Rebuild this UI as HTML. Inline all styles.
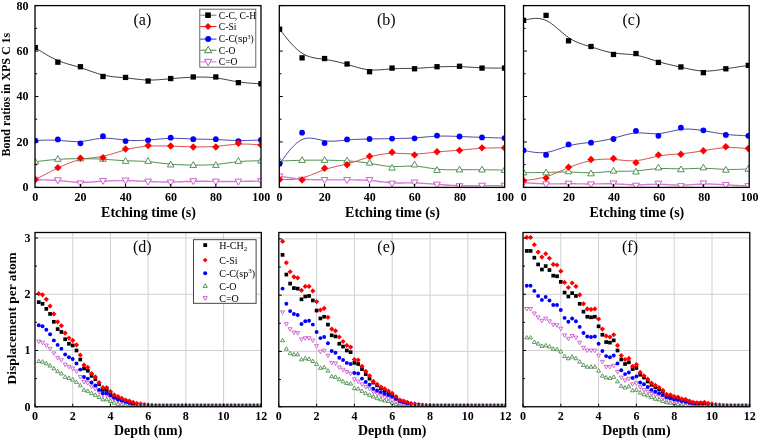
<!DOCTYPE html>
<html><head><meta charset="utf-8"><title>Figure</title>
<style>
html,body{margin:0;padding:0;background:#fff;}
body{width:760px;height:440px;overflow:hidden;}
svg{display:block;will-change:transform;filter:blur(0.3px);}
text{font-family:"Liberation Serif",serif;fill:#000;}
.tl{font-size:12px;font-weight:bold;}
.at{font-size:14px;font-weight:bold;}
.at2{font-size:13.9px;font-weight:bold;}
.pl{font-size:16px;}
.lg{font-size:9.6px;}
.lg2{font-size:10px;}
.yt1{font-size:12px;font-weight:bold;}
.yt2{font-size:13.4px;font-weight:bold;}
</style></head>
<body>
<svg width="760" height="440" viewBox="0 0 760 440">
<rect width="760" height="440" fill="#fff"/>
<clipPath id="ct0"><rect x="35" y="5.6" width="226" height="181.8"/></clipPath>
<g clip-path="url(#ct0)">
<path d="M35.3 47.64 L35.3 47.64 L35.32 47.65 L35.36 47.68 L35.44 47.73 L35.57 47.82 L35.77 47.94 L36.05 48.12 L36.41 48.36 L36.89 48.66 L37.48 49.04 L38.2 49.51 L39.06 50.07 L40.08 50.72 L41.24 51.46 L42.53 52.27 L43.94 53.15 L45.45 54.06 L47.05 55.01 L48.73 55.97 L50.48 56.93 L52.28 57.88 L54.12 58.81 L55.99 59.69 L57.86 60.52 L59.75 61.28 L61.63 61.98 L63.51 62.63 L65.39 63.24 L67.27 63.81 L69.15 64.36 L71.03 64.89 L72.91 65.41 L74.79 65.94 L76.67 66.47 L78.55 67.02 L80.43 67.6 L82.31 68.21 L84.19 68.86 L86.07 69.52 L87.95 70.19 L89.83 70.87 L91.71 71.54 L93.59 72.2 L95.47 72.84 L97.35 73.45 L99.23 74.02 L101.11 74.55 L102.99 75.02 L104.88 75.44 L106.76 75.8 L108.64 76.11 L110.52 76.38 L112.4 76.62 L114.28 76.83 L116.16 77.02 L118.04 77.19 L119.92 77.35 L121.8 77.52 L123.68 77.68 L125.56 77.87 L127.44 78.06 L129.32 78.28 L131.2 78.5 L133.08 78.72 L134.96 78.94 L136.84 79.16 L138.72 79.36 L140.6 79.55 L142.48 79.71 L144.36 79.85 L146.24 79.96 L148.12 80.02 L150.01 80.05 L151.89 80.04 L153.77 79.99 L155.65 79.92 L157.53 79.81 L159.41 79.69 L161.29 79.54 L163.17 79.39 L165.05 79.22 L166.93 79.05 L168.81 78.87 L170.69 78.7 L172.57 78.53 L174.45 78.37 L176.33 78.22 L178.21 78.07 L180.09 77.93 L181.97 77.8 L183.85 77.68 L185.73 77.57 L187.61 77.47 L189.49 77.38 L191.37 77.29 L193.25 77.22 L195.14 77.16 L197.02 77.11 L198.9 77.08 L200.78 77.07 L202.66 77.08 L204.54 77.11 L206.42 77.16 L208.3 77.25 L210.18 77.36 L212.06 77.51 L213.94 77.69 L215.82 77.9 L217.7 78.16 L219.58 78.45 L221.46 78.76 L223.34 79.1 L225.22 79.46 L227.1 79.82 L228.98 80.19 L230.86 80.55 L232.74 80.91 L234.62 81.26 L236.5 81.58 L238.38 81.88 L240.26 82.15 L242.13 82.39 L243.97 82.6 L245.77 82.79 L247.52 82.95 L249.2 83.09 L250.8 83.21 L252.31 83.31 L253.72 83.4 L255.01 83.47 L256.17 83.53 L257.19 83.58 L258.05 83.63 L258.77 83.66 L259.36 83.69 L259.84 83.72 L260.2 83.74 L260.48 83.75 L260.68 83.76 L260.81 83.77 L260.89 83.77 L260.93 83.77 L260.95 83.77 L260.95 83.77" fill="none" stroke="#222" stroke-width="0.9" stroke-linejoin="round"/>
<path d="M35.3 179.67 L35.3 179.67 L35.32 179.66 L35.36 179.64 L35.44 179.6 L35.57 179.53 L35.77 179.42 L36.05 179.28 L36.41 179.08 L36.89 178.83 L37.48 178.51 L38.2 178.13 L39.06 177.67 L40.08 177.12 L41.24 176.51 L42.53 175.82 L43.94 175.08 L45.45 174.29 L47.05 173.45 L48.73 172.59 L50.48 171.69 L52.28 170.78 L54.12 169.87 L55.99 168.95 L57.86 168.05 L59.75 167.16 L61.63 166.29 L63.51 165.44 L65.39 164.63 L67.27 163.84 L69.15 163.1 L71.03 162.39 L72.91 161.73 L74.79 161.12 L76.67 160.55 L78.55 160.05 L80.43 159.6 L82.31 159.21 L84.19 158.88 L86.07 158.59 L87.95 158.33 L89.83 158.1 L91.71 157.88 L93.59 157.66 L95.47 157.43 L97.35 157.19 L99.23 156.92 L101.11 156.62 L102.99 156.27 L104.88 155.86 L106.76 155.41 L108.64 154.91 L110.52 154.38 L112.4 153.82 L114.28 153.25 L116.16 152.67 L118.04 152.08 L119.92 151.5 L121.8 150.93 L123.68 150.38 L125.56 149.87 L127.44 149.38 L129.32 148.93 L131.2 148.52 L133.08 148.14 L134.96 147.79 L136.84 147.48 L138.72 147.2 L140.6 146.95 L142.48 146.72 L144.36 146.53 L146.24 146.37 L148.12 146.23 L150.01 146.12 L151.89 146.03 L153.77 145.97 L155.65 145.93 L157.53 145.91 L159.41 145.9 L161.29 145.91 L163.17 145.94 L165.05 145.97 L166.93 146.01 L168.81 146.06 L170.69 146.12 L172.57 146.17 L174.45 146.24 L176.33 146.3 L178.21 146.36 L180.09 146.42 L181.97 146.49 L183.85 146.55 L185.73 146.6 L187.61 146.66 L189.49 146.71 L191.37 146.76 L193.25 146.8 L195.14 146.83 L197.02 146.86 L198.9 146.88 L200.78 146.88 L202.66 146.88 L204.54 146.85 L206.42 146.82 L208.3 146.76 L210.18 146.69 L212.06 146.6 L213.94 146.48 L215.82 146.34 L217.7 146.18 L219.58 146 L221.46 145.8 L223.34 145.59 L225.22 145.38 L227.1 145.16 L228.98 144.96 L230.86 144.76 L232.74 144.58 L234.62 144.42 L236.5 144.29 L238.38 144.18 L240.26 144.12 L242.13 144.08 L243.97 144.07 L245.77 144.09 L247.52 144.13 L249.2 144.18 L250.8 144.25 L252.31 144.33 L253.72 144.41 L255.01 144.49 L256.17 144.57 L257.19 144.64 L258.05 144.7 L258.77 144.75 L259.36 144.79 L259.84 144.83 L260.2 144.85 L260.48 144.87 L260.68 144.89 L260.81 144.89 L260.89 144.9 L260.93 144.9 L260.95 144.9 L260.95 144.9" fill="none" stroke="#c82020" stroke-width="0.8" stroke-linejoin="round"/>
<path d="M35.3 140.59 L35.3 140.59 L35.32 140.59 L35.36 140.58 L35.44 140.58 L35.57 140.57 L35.77 140.56 L36.05 140.55 L36.41 140.53 L36.89 140.51 L37.48 140.48 L38.2 140.44 L39.06 140.4 L40.08 140.35 L41.24 140.29 L42.53 140.24 L43.94 140.18 L45.45 140.14 L47.05 140.1 L48.73 140.08 L50.48 140.07 L52.28 140.08 L54.12 140.12 L55.99 140.19 L57.86 140.28 L59.75 140.41 L61.63 140.57 L63.51 140.74 L65.39 140.92 L67.27 141.09 L69.15 141.26 L71.03 141.4 L72.91 141.52 L74.79 141.59 L76.67 141.62 L78.55 141.59 L80.43 141.5 L82.31 141.33 L84.19 141.1 L86.07 140.82 L87.95 140.5 L89.83 140.16 L91.71 139.81 L93.59 139.46 L95.47 139.13 L97.35 138.83 L99.23 138.57 L101.11 138.37 L102.99 138.24 L104.88 138.18 L106.76 138.2 L108.64 138.28 L110.52 138.41 L112.4 138.58 L114.28 138.79 L116.16 139.01 L118.04 139.25 L119.92 139.5 L121.8 139.73 L123.68 139.94 L125.56 140.13 L127.44 140.28 L129.32 140.4 L131.2 140.48 L133.08 140.53 L134.96 140.55 L136.84 140.54 L138.72 140.51 L140.6 140.45 L142.48 140.37 L144.36 140.27 L146.24 140.15 L148.12 140.02 L150.01 139.87 L151.89 139.71 L153.77 139.54 L155.65 139.38 L157.53 139.21 L159.41 139.04 L161.29 138.89 L163.17 138.74 L165.05 138.61 L166.93 138.5 L168.81 138.41 L170.69 138.35 L172.57 138.32 L174.45 138.31 L176.33 138.33 L178.21 138.37 L180.09 138.42 L181.97 138.48 L183.85 138.56 L185.73 138.64 L187.61 138.72 L189.49 138.81 L191.37 138.89 L193.25 138.96 L195.14 139.02 L197.02 139.07 L198.9 139.12 L200.78 139.16 L202.66 139.19 L204.54 139.23 L206.42 139.26 L208.3 139.3 L210.18 139.35 L212.06 139.4 L213.94 139.46 L215.82 139.53 L217.7 139.61 L219.58 139.7 L221.46 139.8 L223.34 139.9 L225.22 140.01 L227.1 140.11 L228.98 140.21 L230.86 140.3 L232.74 140.38 L234.62 140.45 L236.5 140.51 L238.38 140.55 L240.26 140.57 L242.13 140.57 L243.97 140.55 L245.77 140.52 L247.52 140.48 L249.2 140.44 L250.8 140.38 L252.31 140.32 L253.72 140.26 L255.01 140.2 L256.17 140.15 L257.19 140.09 L258.05 140.05 L258.77 140.01 L259.36 139.98 L259.84 139.96 L260.2 139.94 L260.48 139.93 L260.68 139.92 L260.81 139.91 L260.89 139.91 L260.93 139.91 L260.95 139.9 L260.95 139.9" fill="none" stroke="#2e2e98" stroke-width="0.9" stroke-linejoin="round"/>
<path d="M35.3 161.72 L35.3 161.72 L35.32 161.72 L35.36 161.71 L35.44 161.7 L35.57 161.69 L35.77 161.66 L36.05 161.63 L36.41 161.59 L36.89 161.53 L37.48 161.46 L38.2 161.37 L39.06 161.27 L40.08 161.14 L41.24 161 L42.53 160.85 L43.94 160.69 L45.45 160.52 L47.05 160.35 L48.73 160.17 L50.48 160 L52.28 159.83 L54.12 159.67 L55.99 159.51 L57.86 159.37 L59.75 159.25 L61.63 159.14 L63.51 159.04 L65.39 158.96 L67.27 158.89 L69.15 158.83 L71.03 158.79 L72.91 158.75 L74.79 158.72 L76.67 158.7 L78.55 158.69 L80.43 158.69 L82.31 158.69 L84.19 158.7 L86.07 158.72 L87.95 158.75 L89.83 158.78 L91.71 158.82 L93.59 158.87 L95.47 158.93 L97.35 158.99 L99.23 159.07 L101.11 159.16 L102.99 159.26 L104.88 159.37 L106.76 159.49 L108.64 159.61 L110.52 159.74 L112.4 159.87 L114.28 160.01 L116.16 160.14 L118.04 160.27 L119.92 160.39 L121.8 160.5 L123.68 160.61 L125.56 160.7 L127.44 160.78 L129.32 160.84 L131.2 160.9 L133.08 160.96 L134.96 161.02 L136.84 161.07 L138.72 161.13 L140.6 161.21 L142.48 161.29 L144.36 161.39 L146.24 161.51 L148.12 161.65 L150.01 161.81 L151.89 161.99 L153.77 162.2 L155.65 162.41 L157.53 162.64 L159.41 162.87 L161.29 163.1 L163.17 163.33 L165.05 163.55 L166.93 163.76 L168.81 163.96 L170.69 164.14 L172.57 164.3 L174.45 164.44 L176.33 164.56 L178.21 164.67 L180.09 164.75 L181.97 164.83 L183.85 164.89 L185.73 164.94 L187.61 164.98 L189.49 165.01 L191.37 165.03 L193.25 165.05 L195.14 165.07 L197.02 165.08 L198.9 165.09 L200.78 165.08 L202.66 165.07 L204.54 165.03 L206.42 164.99 L208.3 164.92 L210.18 164.84 L212.06 164.73 L213.94 164.6 L215.82 164.45 L217.7 164.26 L219.58 164.06 L221.46 163.83 L223.34 163.59 L225.22 163.34 L227.1 163.08 L228.98 162.82 L230.86 162.57 L232.74 162.32 L234.62 162.09 L236.5 161.88 L238.38 161.68 L240.26 161.52 L242.13 161.37 L243.97 161.25 L245.77 161.16 L247.52 161.07 L249.2 161.01 L250.8 160.96 L252.31 160.92 L253.72 160.89 L255.01 160.87 L256.17 160.86 L257.19 160.85 L258.05 160.84 L258.77 160.83 L259.36 160.83 L259.84 160.82 L260.2 160.82 L260.48 160.82 L260.68 160.81 L260.81 160.81 L260.89 160.81 L260.93 160.81 L260.95 160.81 L260.95 160.81" fill="none" stroke="#4a8a4a" stroke-width="1" stroke-linejoin="round"/>
<path d="M35.3 179.67 L35.3 179.67 L35.32 179.67 L35.36 179.67 L35.44 179.68 L35.57 179.68 L35.77 179.68 L36.05 179.69 L36.41 179.7 L36.89 179.71 L37.48 179.72 L38.2 179.73 L39.06 179.75 L40.08 179.77 L41.24 179.8 L42.53 179.83 L43.94 179.86 L45.45 179.91 L47.05 179.97 L48.73 180.03 L50.48 180.11 L52.28 180.21 L54.12 180.32 L55.99 180.44 L57.86 180.58 L59.75 180.74 L61.63 180.92 L63.51 181.1 L65.39 181.29 L67.27 181.48 L69.15 181.66 L71.03 181.83 L72.91 181.99 L74.79 182.12 L76.67 182.23 L78.55 182.32 L80.43 182.36 L82.31 182.37 L84.19 182.35 L86.07 182.29 L87.95 182.21 L89.83 182.1 L91.71 181.98 L93.59 181.85 L95.47 181.71 L97.35 181.56 L99.23 181.42 L101.11 181.28 L102.99 181.15 L104.88 181.03 L106.76 180.93 L108.64 180.84 L110.52 180.77 L112.4 180.71 L114.28 180.66 L116.16 180.62 L118.04 180.6 L119.92 180.59 L121.8 180.59 L123.68 180.6 L125.56 180.62 L127.44 180.65 L129.32 180.7 L131.2 180.75 L133.08 180.81 L134.96 180.88 L136.84 180.95 L138.72 181.03 L140.6 181.11 L142.48 181.2 L144.36 181.28 L146.24 181.37 L148.12 181.45 L150.01 181.54 L151.89 181.62 L153.77 181.7 L155.65 181.77 L157.53 181.84 L159.41 181.89 L161.29 181.94 L163.17 181.98 L165.05 182.01 L166.93 182.03 L168.81 182.03 L170.69 182.02 L172.57 182 L174.45 181.96 L176.33 181.9 L178.21 181.84 L180.09 181.78 L181.97 181.71 L183.85 181.64 L185.73 181.57 L187.61 181.5 L189.49 181.44 L191.37 181.38 L193.25 181.34 L195.14 181.31 L197.02 181.29 L198.9 181.28 L200.78 181.28 L202.66 181.28 L204.54 181.29 L206.42 181.31 L208.3 181.33 L210.18 181.35 L212.06 181.37 L213.94 181.4 L215.82 181.42 L217.7 181.43 L219.58 181.45 L221.46 181.46 L223.34 181.47 L225.22 181.47 L227.1 181.47 L228.98 181.47 L230.86 181.47 L232.74 181.46 L234.62 181.45 L236.5 181.43 L238.38 181.42 L240.26 181.4 L242.13 181.37 L243.97 181.35 L245.77 181.32 L247.52 181.29 L249.2 181.26 L250.8 181.24 L252.31 181.21 L253.72 181.18 L255.01 181.16 L256.17 181.13 L257.19 181.11 L258.05 181.1 L258.77 181.08 L259.36 181.07 L259.84 181.06 L260.2 181.05 L260.48 181.05 L260.68 181.04 L260.81 181.04 L260.89 181.04 L260.93 181.04 L260.95 181.04 L260.95 181.04" fill="none" stroke="#d67ad6" stroke-width="1.4" stroke-linejoin="round"/>
<path d="M35.3 183.22L38.7 177.31L31.9 177.31Z" fill="#fff" stroke="#c43cc4" stroke-width="0.8"/>
<path d="M57.86 183.68L61.26 177.76L54.46 177.76Z" fill="#fff" stroke="#c43cc4" stroke-width="0.8"/>
<path d="M80.43 186.86L83.83 180.94L77.03 180.94Z" fill="#fff" stroke="#c43cc4" stroke-width="0.8"/>
<path d="M102.99 184.36L106.39 178.44L99.59 178.44Z" fill="#fff" stroke="#c43cc4" stroke-width="0.8"/>
<path d="M125.56 183.9L128.96 177.99L122.16 177.99Z" fill="#fff" stroke="#c43cc4" stroke-width="0.8"/>
<path d="M148.12 185.04L151.53 179.13L144.72 179.13Z" fill="#fff" stroke="#c43cc4" stroke-width="0.8"/>
<path d="M170.69 185.95L174.09 180.03L167.29 180.03Z" fill="#fff" stroke="#c43cc4" stroke-width="0.8"/>
<path d="M193.25 184.59L196.66 178.67L189.85 178.67Z" fill="#fff" stroke="#c43cc4" stroke-width="0.8"/>
<path d="M215.82 185.04L219.22 179.13L212.42 179.13Z" fill="#fff" stroke="#c43cc4" stroke-width="0.8"/>
<path d="M238.38 185.04L241.78 179.13L234.98 179.13Z" fill="#fff" stroke="#c43cc4" stroke-width="0.8"/>
<path d="M260.95 184.59L264.35 178.67L257.55 178.67Z" fill="#fff" stroke="#c43cc4" stroke-width="0.8"/>
<path d="M35.3 158.28L38.6 164.02L32 164.02Z" fill="#fff" stroke="#2f7a2f" stroke-width="0.8"/>
<path d="M57.86 155.55L61.16 161.29L54.56 161.29Z" fill="#fff" stroke="#2f7a2f" stroke-width="0.8"/>
<path d="M80.43 155.09L83.73 160.84L77.13 160.84Z" fill="#fff" stroke="#2f7a2f" stroke-width="0.8"/>
<path d="M102.99 155.55L106.29 161.29L99.69 161.29Z" fill="#fff" stroke="#2f7a2f" stroke-width="0.8"/>
<path d="M125.56 157.59L128.86 163.34L122.26 163.34Z" fill="#fff" stroke="#2f7a2f" stroke-width="0.8"/>
<path d="M148.12 157.59L151.43 163.34L144.82 163.34Z" fill="#fff" stroke="#2f7a2f" stroke-width="0.8"/>
<path d="M170.69 161.23L173.99 166.97L167.39 166.97Z" fill="#fff" stroke="#2f7a2f" stroke-width="0.8"/>
<path d="M193.25 161.68L196.56 167.43L189.95 167.43Z" fill="#fff" stroke="#2f7a2f" stroke-width="0.8"/>
<path d="M215.82 161.68L219.12 167.43L212.52 167.43Z" fill="#fff" stroke="#2f7a2f" stroke-width="0.8"/>
<path d="M238.38 157.59L241.69 163.34L235.08 163.34Z" fill="#fff" stroke="#2f7a2f" stroke-width="0.8"/>
<path d="M260.95 157.37L264.25 163.11L257.65 163.11Z" fill="#fff" stroke="#2f7a2f" stroke-width="0.8"/>
<circle cx="35.3" cy="140.59" r="2.9" fill="#00f"/>
<circle cx="57.86" cy="139.45" r="2.9" fill="#00f"/>
<circle cx="80.43" cy="143.31" r="2.9" fill="#00f"/>
<circle cx="102.99" cy="136.27" r="2.9" fill="#00f"/>
<circle cx="125.56" cy="141.04" r="2.9" fill="#00f"/>
<circle cx="148.12" cy="140.36" r="2.9" fill="#00f"/>
<circle cx="170.69" cy="137.63" r="2.9" fill="#00f"/>
<circle cx="193.25" cy="139.22" r="2.9" fill="#00f"/>
<circle cx="215.82" cy="139.22" r="2.9" fill="#00f"/>
<circle cx="238.38" cy="141.04" r="2.9" fill="#00f"/>
<circle cx="260.95" cy="139.9" r="2.9" fill="#00f"/>
<path d="M35.3 175.97L39 179.67L35.3 183.37L31.6 179.67Z" fill="#f00"/>
<path d="M57.86 163.93L61.56 167.63L57.86 171.33L54.16 167.63Z" fill="#f00"/>
<path d="M80.43 154.38L84.13 158.08L80.43 161.78L76.73 158.08Z" fill="#f00"/>
<path d="M102.99 153.93L106.69 157.63L102.99 161.33L99.29 157.63Z" fill="#f00"/>
<path d="M125.56 145.29L129.26 148.99L125.56 152.69L121.86 148.99Z" fill="#f00"/>
<path d="M148.12 141.89L151.82 145.59L148.12 149.29L144.43 145.59Z" fill="#f00"/>
<path d="M170.69 142.34L174.39 146.04L170.69 149.74L166.99 146.04Z" fill="#f00"/>
<path d="M193.25 143.25L196.95 146.95L193.25 150.65L189.56 146.95Z" fill="#f00"/>
<path d="M215.82 143.25L219.52 146.95L215.82 150.65L212.12 146.95Z" fill="#f00"/>
<path d="M238.38 139.61L242.08 143.31L238.38 147.01L234.69 143.31Z" fill="#f00"/>
<path d="M260.95 141.2L264.65 144.9L260.95 148.6L257.25 144.9Z" fill="#f00"/>
<rect x="32.65" y="44.99" width="5.3" height="5.3" fill="#000"/>
<rect x="55.21" y="59.54" width="5.3" height="5.3" fill="#000"/>
<rect x="77.78" y="64.08" width="5.3" height="5.3" fill="#000"/>
<rect x="100.34" y="73.85" width="5.3" height="5.3" fill="#000"/>
<rect x="122.91" y="74.76" width="5.3" height="5.3" fill="#000"/>
<rect x="145.47" y="78.4" width="5.3" height="5.3" fill="#000"/>
<rect x="168.04" y="75.9" width="5.3" height="5.3" fill="#000"/>
<rect x="190.6" y="74.31" width="5.3" height="5.3" fill="#000"/>
<rect x="213.17" y="74.31" width="5.3" height="5.3" fill="#000"/>
<rect x="235.73" y="79.99" width="5.3" height="5.3" fill="#000"/>
<rect x="258.3" y="81.12" width="5.3" height="5.3" fill="#000"/>
</g>
<path d="M80.43 187.4v-3.5 M125.56 187.4v-3.5 M170.69 187.4v-3.5 M215.82 187.4v-3.5 M35 187.4h3.5 M35 164.68h2.2 M35 141.95h3.5 M35 119.23h2.2 M35 96.5h3.5 M35 73.78h2.2 M35 51.05h3.5 M35 28.33h2.2 M35 5.6h3.5" stroke="#000" stroke-width="1" fill="none"/>
<rect x="35" y="5.6" width="226" height="181.8" fill="none" stroke="#000" stroke-width="1.3"/>
<text x="35.3" y="200.6" class="tl" text-anchor="middle">0</text>
<text x="80.5" y="200.6" class="tl" text-anchor="middle">20</text>
<text x="125.7" y="200.6" class="tl" text-anchor="middle">40</text>
<text x="170.9" y="200.6" class="tl" text-anchor="middle">60</text>
<text x="216.1" y="200.6" class="tl" text-anchor="middle">80</text>
<text x="261.3" y="200.6" class="tl" text-anchor="middle">100</text>
<text x="28.6" y="191" class="tl" text-anchor="end">0</text>
<text x="28.6" y="145.55" class="tl" text-anchor="end">20</text>
<text x="28.6" y="100.1" class="tl" text-anchor="end">40</text>
<text x="28.6" y="54.65" class="tl" text-anchor="end">60</text>
<text x="28.6" y="10.1" class="tl" text-anchor="end">80</text>
<text x="148.5" y="217.2" class="at" text-anchor="middle">Etching time (s)</text>
<text x="133.5" y="24.6" class="pl">(a)</text>
<clipPath id="ct1"><rect x="279.3" y="5.6" width="225.4" height="181.8"/></clipPath>
<g clip-path="url(#ct1)">
<path d="M279.6 29.23 L279.6 29.24 L279.62 29.26 L279.66 29.31 L279.74 29.41 L279.87 29.58 L280.07 29.83 L280.34 30.18 L280.71 30.65 L281.18 31.25 L281.77 32 L282.49 32.91 L283.35 34.01 L284.36 35.29 L285.52 36.75 L286.8 38.33 L288.21 40.02 L289.71 41.77 L291.31 43.56 L292.99 45.36 L294.73 47.12 L296.53 48.82 L298.36 50.42 L300.22 51.9 L302.09 53.21 L303.96 54.34 L305.84 55.29 L307.71 56.09 L309.59 56.74 L311.46 57.28 L313.33 57.73 L315.21 58.09 L317.08 58.39 L318.96 58.64 L320.83 58.87 L322.71 59.1 L324.58 59.34 L326.45 59.62 L328.33 59.92 L330.2 60.25 L332.08 60.62 L333.95 61.01 L335.83 61.42 L337.7 61.86 L339.57 62.33 L341.45 62.81 L343.32 63.32 L345.2 63.84 L347.07 64.38 L348.94 64.94 L350.82 65.5 L352.69 66.07 L354.57 66.62 L356.44 67.16 L358.31 67.68 L360.19 68.16 L362.06 68.61 L363.94 69.01 L365.81 69.35 L367.69 69.63 L369.56 69.84 L371.43 69.97 L373.31 70.03 L375.18 70.03 L377.06 69.98 L378.93 69.89 L380.81 69.76 L382.68 69.61 L384.55 69.45 L386.43 69.28 L388.3 69.11 L390.18 68.95 L392.05 68.81 L393.92 68.7 L395.8 68.62 L397.67 68.56 L399.55 68.52 L401.42 68.49 L403.29 68.47 L405.17 68.45 L407.04 68.44 L408.92 68.42 L410.79 68.4 L412.67 68.37 L414.54 68.32 L416.41 68.26 L418.29 68.17 L420.16 68.08 L422.04 67.97 L423.91 67.85 L425.78 67.73 L427.66 67.6 L429.53 67.47 L431.41 67.35 L433.28 67.22 L435.16 67.1 L437.03 67 L438.9 66.9 L440.78 66.81 L442.65 66.73 L444.53 66.67 L446.4 66.62 L448.27 66.58 L450.15 66.56 L452.02 66.55 L453.9 66.55 L455.77 66.57 L457.65 66.61 L459.52 66.65 L461.39 66.72 L463.27 66.8 L465.14 66.89 L467.02 66.98 L468.89 67.09 L470.77 67.19 L472.64 67.3 L474.51 67.41 L476.39 67.52 L478.26 67.62 L480.14 67.71 L482.01 67.79 L483.88 67.86 L485.74 67.92 L487.57 67.97 L489.37 68 L491.11 68.03 L492.79 68.06 L494.39 68.07 L495.89 68.08 L497.3 68.09 L498.58 68.09 L499.74 68.09 L500.75 68.09 L501.61 68.09 L502.33 68.09 L502.92 68.09 L503.39 68.09 L503.76 68.09 L504.03 68.09 L504.23 68.09 L504.36 68.09 L504.44 68.09 L504.48 68.09 L504.5 68.09 L504.5 68.09" fill="none" stroke="#222" stroke-width="0.9" stroke-linejoin="round"/>
<path d="M279.6 179.45 L279.6 179.45 L279.62 179.45 L279.66 179.45 L279.74 179.45 L279.87 179.45 L280.07 179.46 L280.34 179.46 L280.71 179.47 L281.18 179.48 L281.77 179.49 L282.49 179.5 L283.35 179.52 L284.36 179.54 L285.52 179.56 L286.8 179.56 L288.21 179.55 L289.71 179.51 L291.31 179.43 L292.99 179.32 L294.73 179.16 L296.53 178.94 L298.36 178.66 L300.22 178.32 L302.09 177.89 L303.96 177.39 L305.84 176.81 L307.71 176.18 L309.59 175.49 L311.46 174.77 L313.33 174.02 L315.21 173.26 L317.08 172.49 L318.96 171.74 L320.83 171 L322.71 170.3 L324.58 169.64 L326.45 169.03 L328.33 168.47 L330.2 167.95 L332.08 167.46 L333.95 167 L335.83 166.56 L337.7 166.13 L339.57 165.7 L341.45 165.27 L343.32 164.83 L345.2 164.37 L347.07 163.88 L348.94 163.36 L350.82 162.82 L352.69 162.25 L354.57 161.66 L356.44 161.07 L358.31 160.46 L360.19 159.86 L362.06 159.25 L363.94 158.66 L365.81 158.08 L367.69 157.52 L369.56 156.99 L371.43 156.48 L373.31 156.01 L375.18 155.57 L377.06 155.16 L378.93 154.79 L380.81 154.45 L382.68 154.16 L384.55 153.9 L386.43 153.69 L388.3 153.52 L390.18 153.39 L392.05 153.31 L393.92 153.28 L395.8 153.28 L397.67 153.32 L399.55 153.39 L401.42 153.47 L403.29 153.56 L405.17 153.65 L407.04 153.74 L408.92 153.82 L410.79 153.88 L412.67 153.92 L414.54 153.92 L416.41 153.88 L418.29 153.8 L420.16 153.7 L422.04 153.56 L423.91 153.4 L425.78 153.23 L427.66 153.04 L429.53 152.84 L431.41 152.63 L433.28 152.42 L435.16 152.22 L437.03 152.02 L438.9 151.84 L440.78 151.67 L442.65 151.51 L444.53 151.35 L446.4 151.2 L448.27 151.05 L450.15 150.91 L452.02 150.77 L453.9 150.62 L455.77 150.48 L457.65 150.33 L459.52 150.17 L461.39 150 L463.27 149.83 L465.14 149.66 L467.02 149.48 L468.89 149.31 L470.77 149.14 L472.64 148.97 L474.51 148.81 L476.39 148.66 L478.26 148.52 L480.14 148.39 L482.01 148.28 L483.88 148.18 L485.74 148.1 L487.57 148.03 L489.37 147.98 L491.11 147.94 L492.79 147.91 L494.39 147.89 L495.89 147.87 L497.3 147.87 L498.58 147.86 L499.74 147.86 L500.75 147.86 L501.61 147.86 L502.33 147.86 L502.92 147.86 L503.39 147.86 L503.76 147.86 L504.03 147.86 L504.23 147.86 L504.36 147.86 L504.44 147.86 L504.48 147.86 L504.5 147.86 L504.5 147.86" fill="none" stroke="#c82020" stroke-width="0.8" stroke-linejoin="round"/>
<path d="M279.6 163.77 L279.6 163.76 L279.62 163.74 L279.66 163.68 L279.74 163.57 L279.87 163.39 L280.07 163.12 L280.34 162.74 L280.71 162.23 L281.18 161.58 L281.77 160.76 L282.49 159.77 L283.35 158.58 L284.36 157.18 L285.52 155.61 L286.8 153.9 L288.21 152.11 L289.71 150.27 L291.31 148.42 L292.99 146.61 L294.73 144.87 L296.53 143.26 L298.36 141.81 L300.22 140.56 L302.09 139.56 L303.96 138.84 L305.84 138.38 L307.71 138.13 L309.59 138.08 L311.46 138.19 L313.33 138.43 L315.21 138.77 L317.08 139.16 L318.96 139.59 L320.83 140.02 L322.71 140.41 L324.58 140.74 L326.45 140.97 L328.33 141.12 L330.2 141.19 L332.08 141.2 L333.95 141.14 L335.83 141.04 L337.7 140.9 L339.57 140.73 L341.45 140.55 L343.32 140.35 L345.2 140.16 L347.07 139.98 L348.94 139.82 L350.82 139.68 L352.69 139.56 L354.57 139.46 L356.44 139.37 L358.31 139.29 L360.19 139.22 L362.06 139.17 L363.94 139.12 L365.81 139.07 L367.69 139.03 L369.56 139 L371.43 138.96 L373.31 138.92 L375.18 138.88 L377.06 138.85 L378.93 138.81 L380.81 138.77 L382.68 138.74 L384.55 138.7 L386.43 138.67 L388.3 138.64 L390.18 138.61 L392.05 138.58 L393.92 138.55 L395.8 138.52 L397.67 138.49 L399.55 138.46 L401.42 138.42 L403.29 138.38 L405.17 138.33 L407.04 138.27 L408.92 138.2 L410.79 138.11 L412.67 138.01 L414.54 137.9 L416.41 137.77 L418.29 137.62 L420.16 137.47 L422.04 137.3 L423.91 137.14 L425.78 136.97 L427.66 136.81 L429.53 136.66 L431.41 136.52 L433.28 136.39 L435.16 136.28 L437.03 136.19 L438.9 136.13 L440.78 136.09 L442.65 136.07 L444.53 136.07 L446.4 136.09 L448.27 136.12 L450.15 136.16 L452.02 136.22 L453.9 136.28 L455.77 136.35 L457.65 136.42 L459.52 136.5 L461.39 136.57 L463.27 136.65 L465.14 136.72 L467.02 136.8 L468.89 136.87 L470.77 136.95 L472.64 137.02 L474.51 137.09 L476.39 137.16 L478.26 137.23 L480.14 137.3 L482.01 137.37 L483.88 137.43 L485.74 137.5 L487.57 137.56 L489.37 137.62 L491.11 137.67 L492.79 137.73 L494.39 137.78 L495.89 137.82 L497.3 137.87 L498.58 137.91 L499.74 137.94 L500.75 137.97 L501.61 138 L502.33 138.02 L502.92 138.04 L503.39 138.05 L503.76 138.06 L504.03 138.07 L504.23 138.08 L504.36 138.08 L504.44 138.08 L504.48 138.09 L504.5 138.09 L504.5 138.09" fill="none" stroke="#2e2e98" stroke-width="0.9" stroke-linejoin="round"/>
<path d="M279.6 161.04 L279.6 161.04 L279.62 161.04 L279.66 161.04 L279.74 161.03 L279.87 161.03 L280.07 161.02 L280.34 161.01 L280.71 160.99 L281.18 160.98 L281.77 160.95 L282.49 160.92 L283.35 160.89 L284.36 160.85 L285.52 160.8 L286.8 160.75 L288.21 160.7 L289.71 160.64 L291.31 160.58 L292.99 160.53 L294.73 160.47 L296.53 160.42 L298.36 160.37 L300.22 160.32 L302.09 160.28 L303.96 160.25 L305.84 160.22 L307.71 160.2 L309.59 160.18 L311.46 160.17 L313.33 160.16 L315.21 160.16 L317.08 160.16 L318.96 160.16 L320.83 160.17 L322.71 160.19 L324.58 160.21 L326.45 160.23 L328.33 160.25 L330.2 160.28 L332.08 160.32 L333.95 160.36 L335.83 160.4 L337.7 160.46 L339.57 160.53 L341.45 160.6 L343.32 160.68 L345.2 160.78 L347.07 160.89 L348.94 161.01 L350.82 161.14 L352.69 161.29 L354.57 161.45 L356.44 161.62 L358.31 161.82 L360.19 162.02 L362.06 162.25 L363.94 162.49 L365.81 162.74 L367.69 163.02 L369.56 163.31 L371.43 163.62 L373.31 163.95 L375.18 164.28 L377.06 164.61 L378.93 164.93 L380.81 165.24 L382.68 165.54 L384.55 165.8 L386.43 166.04 L388.3 166.24 L390.18 166.39 L392.05 166.49 L393.92 166.54 L395.8 166.54 L397.67 166.51 L399.55 166.45 L401.42 166.36 L403.29 166.28 L405.17 166.19 L407.04 166.11 L408.92 166.06 L410.79 166.03 L412.67 166.05 L414.54 166.11 L416.41 166.24 L418.29 166.41 L420.16 166.63 L422.04 166.88 L423.91 167.16 L425.78 167.46 L427.66 167.77 L429.53 168.07 L431.41 168.37 L433.28 168.66 L435.16 168.92 L437.03 169.14 L438.9 169.33 L440.78 169.48 L442.65 169.6 L444.53 169.69 L446.4 169.75 L448.27 169.79 L450.15 169.81 L452.02 169.81 L453.9 169.8 L455.77 169.79 L457.65 169.77 L459.52 169.75 L461.39 169.73 L463.27 169.72 L465.14 169.71 L467.02 169.7 L468.89 169.7 L470.77 169.69 L472.64 169.7 L474.51 169.7 L476.39 169.71 L478.26 169.72 L480.14 169.73 L482.01 169.75 L483.88 169.77 L485.74 169.79 L487.57 169.82 L489.37 169.85 L491.11 169.87 L492.79 169.9 L494.39 169.93 L495.89 169.96 L497.3 169.98 L498.58 170.01 L499.74 170.03 L500.75 170.05 L501.61 170.07 L502.33 170.09 L502.92 170.1 L503.39 170.11 L503.76 170.11 L504.03 170.12 L504.23 170.12 L504.36 170.13 L504.44 170.13 L504.48 170.13 L504.5 170.13 L504.5 170.13" fill="none" stroke="#4a8a4a" stroke-width="1" stroke-linejoin="round"/>
<path d="M279.6 176.26 L279.6 176.27 L279.62 176.27 L279.66 176.27 L279.74 176.29 L279.87 176.31 L280.07 176.34 L280.34 176.38 L280.71 176.43 L281.18 176.5 L281.77 176.59 L282.49 176.7 L283.35 176.83 L284.36 176.99 L285.52 177.16 L286.8 177.35 L288.21 177.55 L289.71 177.76 L291.31 177.97 L292.99 178.19 L294.73 178.4 L296.53 178.61 L298.36 178.8 L300.22 178.98 L302.09 179.14 L303.96 179.28 L305.84 179.4 L307.71 179.51 L309.59 179.59 L311.46 179.66 L313.33 179.72 L315.21 179.76 L317.08 179.79 L318.96 179.82 L320.83 179.84 L322.71 179.85 L324.58 179.86 L326.45 179.87 L328.33 179.88 L330.2 179.88 L332.08 179.89 L333.95 179.89 L335.83 179.9 L337.7 179.9 L339.57 179.9 L341.45 179.9 L343.32 179.9 L345.2 179.9 L347.07 179.9 L348.94 179.9 L350.82 179.9 L352.69 179.91 L354.57 179.92 L356.44 179.94 L358.31 179.98 L360.19 180.02 L362.06 180.08 L363.94 180.16 L365.81 180.25 L367.69 180.37 L369.56 180.51 L371.43 180.67 L373.31 180.85 L375.18 181.05 L377.06 181.26 L378.93 181.48 L380.81 181.7 L382.68 181.91 L384.55 182.11 L386.43 182.3 L388.3 182.47 L390.18 182.62 L392.05 182.74 L393.92 182.83 L395.8 182.89 L397.67 182.93 L399.55 182.94 L401.42 182.94 L403.29 182.94 L405.17 182.92 L407.04 182.91 L408.92 182.9 L410.79 182.89 L412.67 182.9 L414.54 182.93 L416.41 182.98 L418.29 183.05 L420.16 183.13 L422.04 183.24 L423.91 183.35 L425.78 183.48 L427.66 183.62 L429.53 183.76 L431.41 183.91 L433.28 184.06 L435.16 184.22 L437.03 184.37 L438.9 184.52 L440.78 184.67 L442.65 184.81 L444.53 184.94 L446.4 185.07 L448.27 185.19 L450.15 185.3 L452.02 185.4 L453.9 185.49 L455.77 185.57 L457.65 185.64 L459.52 185.7 L461.39 185.74 L463.27 185.76 L465.14 185.78 L467.02 185.79 L468.89 185.78 L470.77 185.78 L472.64 185.76 L474.51 185.74 L476.39 185.72 L478.26 185.7 L480.14 185.68 L482.01 185.66 L483.88 185.64 L485.74 185.63 L487.57 185.61 L489.37 185.6 L491.11 185.6 L492.79 185.59 L494.39 185.59 L495.89 185.58 L497.3 185.58 L498.58 185.58 L499.74 185.58 L500.75 185.58 L501.61 185.58 L502.33 185.58 L502.92 185.58 L503.39 185.58 L503.76 185.58 L504.03 185.58 L504.23 185.58 L504.36 185.58 L504.44 185.58 L504.48 185.58 L504.5 185.58 L504.5 185.58" fill="none" stroke="#d67ad6" stroke-width="1.4" stroke-linejoin="round"/>
<path d="M279.6 179.81L283 173.9L276.2 173.9Z" fill="#fff" stroke="#c43cc4" stroke-width="0.8"/>
<path d="M302.09 183.22L305.49 177.31L298.69 177.31Z" fill="#fff" stroke="#c43cc4" stroke-width="0.8"/>
<path d="M324.58 183.45L327.98 177.53L321.18 177.53Z" fill="#fff" stroke="#c43cc4" stroke-width="0.8"/>
<path d="M347.07 183.45L350.47 177.53L343.67 177.53Z" fill="#fff" stroke="#c43cc4" stroke-width="0.8"/>
<path d="M369.56 183.45L372.96 177.53L366.16 177.53Z" fill="#fff" stroke="#c43cc4" stroke-width="0.8"/>
<path d="M392.05 187.09L395.45 181.17L388.65 181.17Z" fill="#fff" stroke="#c43cc4" stroke-width="0.8"/>
<path d="M414.54 185.95L417.94 180.03L411.14 180.03Z" fill="#fff" stroke="#c43cc4" stroke-width="0.8"/>
<path d="M437.03 188L440.43 182.08L433.63 182.08Z" fill="#fff" stroke="#c43cc4" stroke-width="0.8"/>
<path d="M459.52 189.59L462.92 183.67L456.12 183.67Z" fill="#fff" stroke="#c43cc4" stroke-width="0.8"/>
<path d="M482.01 189.13L485.41 183.22L478.61 183.22Z" fill="#fff" stroke="#c43cc4" stroke-width="0.8"/>
<path d="M504.5 189.13L507.9 183.22L501.1 183.22Z" fill="#fff" stroke="#c43cc4" stroke-width="0.8"/>
<path d="M279.6 157.59L282.9 163.34L276.3 163.34Z" fill="#fff" stroke="#2f7a2f" stroke-width="0.8"/>
<path d="M302.09 156.68L305.39 162.43L298.79 162.43Z" fill="#fff" stroke="#2f7a2f" stroke-width="0.8"/>
<path d="M324.58 156.68L327.88 162.43L321.28 162.43Z" fill="#fff" stroke="#2f7a2f" stroke-width="0.8"/>
<path d="M347.07 157.14L350.37 162.88L343.77 162.88Z" fill="#fff" stroke="#2f7a2f" stroke-width="0.8"/>
<path d="M369.56 159.41L372.86 165.15L366.26 165.15Z" fill="#fff" stroke="#2f7a2f" stroke-width="0.8"/>
<path d="M392.05 164.41L395.35 170.15L388.75 170.15Z" fill="#fff" stroke="#2f7a2f" stroke-width="0.8"/>
<path d="M414.54 161.23L417.84 166.97L411.24 166.97Z" fill="#fff" stroke="#2f7a2f" stroke-width="0.8"/>
<path d="M437.03 166.68L440.33 172.43L433.73 172.43Z" fill="#fff" stroke="#2f7a2f" stroke-width="0.8"/>
<path d="M459.52 166.23L462.82 171.97L456.22 171.97Z" fill="#fff" stroke="#2f7a2f" stroke-width="0.8"/>
<path d="M482.01 166.23L485.31 171.97L478.71 171.97Z" fill="#fff" stroke="#2f7a2f" stroke-width="0.8"/>
<path d="M504.5 166.68L507.8 172.43L501.2 172.43Z" fill="#fff" stroke="#2f7a2f" stroke-width="0.8"/>
<circle cx="279.6" cy="163.77" r="2.9" fill="#00f"/>
<circle cx="302.09" cy="132.63" r="2.9" fill="#00f"/>
<circle cx="324.58" cy="143.09" r="2.9" fill="#00f"/>
<circle cx="347.07" cy="139.45" r="2.9" fill="#00f"/>
<circle cx="369.56" cy="139" r="2.9" fill="#00f"/>
<circle cx="392.05" cy="138.54" r="2.9" fill="#00f"/>
<circle cx="414.54" cy="138.31" r="2.9" fill="#00f"/>
<circle cx="437.03" cy="135.59" r="2.9" fill="#00f"/>
<circle cx="459.52" cy="136.5" r="2.9" fill="#00f"/>
<circle cx="482.01" cy="137.41" r="2.9" fill="#00f"/>
<circle cx="504.5" cy="138.09" r="2.9" fill="#00f"/>
<path d="M279.6 175.75L283.3 179.45L279.6 183.15L275.9 179.45Z" fill="#f00"/>
<path d="M302.09 176.2L305.79 179.9L302.09 183.6L298.39 179.9Z" fill="#f00"/>
<path d="M324.58 164.61L328.28 168.31L324.58 172.01L320.88 168.31Z" fill="#f00"/>
<path d="M347.07 160.98L350.77 164.68L347.07 168.38L343.37 164.68Z" fill="#f00"/>
<path d="M369.56 152.57L373.26 156.27L369.56 159.97L365.86 156.27Z" fill="#f00"/>
<path d="M392.05 148.48L395.75 152.18L392.05 155.88L388.35 152.18Z" fill="#f00"/>
<path d="M414.54 151.2L418.24 154.9L414.54 158.6L410.84 154.9Z" fill="#f00"/>
<path d="M437.03 148.02L440.73 151.72L437.03 155.42L433.33 151.72Z" fill="#f00"/>
<path d="M459.52 146.66L463.22 150.36L459.52 154.06L455.82 150.36Z" fill="#f00"/>
<path d="M482.01 144.16L485.71 147.86L482.01 151.56L478.31 147.86Z" fill="#f00"/>
<path d="M504.5 144.16L508.2 147.86L504.5 151.56L500.8 147.86Z" fill="#f00"/>
<rect x="276.95" y="26.58" width="5.3" height="5.3" fill="#000"/>
<rect x="299.44" y="55.22" width="5.3" height="5.3" fill="#000"/>
<rect x="321.93" y="55.9" width="5.3" height="5.3" fill="#000"/>
<rect x="344.42" y="61.35" width="5.3" height="5.3" fill="#000"/>
<rect x="366.91" y="69.08" width="5.3" height="5.3" fill="#000"/>
<rect x="389.4" y="65.44" width="5.3" height="5.3" fill="#000"/>
<rect x="411.89" y="66.13" width="5.3" height="5.3" fill="#000"/>
<rect x="434.38" y="64.08" width="5.3" height="5.3" fill="#000"/>
<rect x="456.87" y="63.63" width="5.3" height="5.3" fill="#000"/>
<rect x="479.36" y="65.44" width="5.3" height="5.3" fill="#000"/>
<rect x="501.85" y="65.44" width="5.3" height="5.3" fill="#000"/>
</g>
<path d="M324.58 187.4v-3.5 M369.56 187.4v-3.5 M414.54 187.4v-3.5 M459.52 187.4v-3.5 M279.3 187.4h3.5 M279.3 164.68h2.2 M279.3 141.95h3.5 M279.3 119.23h2.2 M279.3 96.5h3.5 M279.3 73.78h2.2 M279.3 51.05h3.5 M279.3 28.33h2.2 M279.3 5.6h3.5" stroke="#000" stroke-width="1" fill="none"/>
<rect x="279.3" y="5.6" width="225.4" height="181.8" fill="none" stroke="#000" stroke-width="1.3"/>
<text x="279.6" y="200.6" class="tl" text-anchor="middle">0</text>
<text x="324.68" y="200.6" class="tl" text-anchor="middle">20</text>
<text x="369.76" y="200.6" class="tl" text-anchor="middle">40</text>
<text x="414.84" y="200.6" class="tl" text-anchor="middle">60</text>
<text x="459.92" y="200.6" class="tl" text-anchor="middle">80</text>
<text x="505" y="200.6" class="tl" text-anchor="middle">100</text>
<text x="392.5" y="217.2" class="at" text-anchor="middle">Etching time (s)</text>
<text x="377" y="24.6" class="pl">(b)</text>
<clipPath id="ct2"><rect x="523.5" y="5.6" width="225.7" height="181.8"/></clipPath>
<g clip-path="url(#ct2)">
<path d="M523.6 20.37 L523.6 20.37 L523.62 20.37 L523.66 20.36 L523.74 20.34 L523.87 20.31 L524.07 20.27 L524.34 20.21 L524.71 20.12 L525.18 20.02 L525.77 19.89 L526.48 19.73 L527.35 19.54 L528.36 19.32 L529.51 19.08 L530.8 18.85 L532.2 18.65 L533.71 18.49 L535.3 18.4 L536.98 18.4 L538.72 18.51 L540.51 18.75 L542.34 19.14 L544.2 19.7 L546.07 20.45 L547.94 21.4 L549.82 22.54 L551.69 23.82 L553.56 25.24 L555.43 26.75 L557.31 28.32 L559.18 29.93 L561.05 31.55 L562.92 33.15 L564.79 34.7 L566.67 36.17 L568.54 37.53 L570.41 38.76 L572.28 39.87 L574.16 40.86 L576.03 41.76 L577.9 42.56 L579.77 43.3 L581.65 43.97 L583.52 44.6 L585.39 45.19 L587.26 45.76 L589.14 46.32 L591.01 46.88 L592.88 47.46 L594.75 48.04 L596.63 48.63 L598.5 49.21 L600.37 49.79 L602.25 50.34 L604.12 50.88 L605.99 51.38 L607.86 51.85 L609.74 52.28 L611.61 52.66 L613.48 52.98 L615.35 53.25 L617.23 53.46 L619.1 53.63 L620.97 53.78 L622.84 53.9 L624.72 54.02 L626.59 54.14 L628.46 54.28 L630.33 54.44 L632.2 54.64 L634.08 54.88 L635.95 55.18 L637.82 55.54 L639.7 55.97 L641.57 56.44 L643.44 56.96 L645.31 57.51 L647.18 58.09 L649.06 58.69 L650.93 59.31 L652.8 59.92 L654.67 60.53 L656.55 61.12 L658.42 61.69 L660.29 62.24 L662.16 62.75 L664.04 63.25 L665.91 63.72 L667.78 64.18 L669.65 64.62 L671.53 65.05 L673.4 65.47 L675.27 65.89 L677.14 66.31 L679.02 66.72 L680.89 67.15 L682.76 67.58 L684.63 68.01 L686.51 68.43 L688.38 68.85 L690.25 69.25 L692.12 69.62 L694 69.97 L695.87 70.28 L697.74 70.55 L699.62 70.77 L701.49 70.94 L703.36 71.05 L705.23 71.09 L707.1 71.07 L708.98 71 L710.85 70.88 L712.72 70.72 L714.59 70.52 L716.47 70.29 L718.34 70.03 L720.21 69.75 L722.08 69.46 L723.96 69.15 L725.83 68.85 L727.7 68.55 L729.56 68.25 L731.39 67.96 L733.18 67.68 L734.92 67.41 L736.6 67.15 L738.19 66.91 L739.7 66.67 L741.1 66.46 L742.39 66.26 L743.54 66.09 L744.55 65.93 L745.42 65.8 L746.13 65.7 L746.72 65.61 L747.19 65.54 L747.56 65.48 L747.83 65.44 L748.03 65.41 L748.16 65.39 L748.24 65.38 L748.28 65.37 L748.3 65.37 L748.3 65.37" fill="none" stroke="#222" stroke-width="0.9" stroke-linejoin="round"/>
<path d="M523.6 180.58 L523.6 180.58 L523.62 180.58 L523.66 180.58 L523.74 180.57 L523.87 180.55 L524.07 180.53 L524.34 180.5 L524.71 180.46 L525.18 180.41 L525.77 180.34 L526.48 180.26 L527.35 180.17 L528.36 180.05 L529.51 179.92 L530.8 179.76 L532.2 179.57 L533.71 179.36 L535.3 179.11 L536.98 178.82 L538.72 178.49 L540.51 178.11 L542.34 177.69 L544.2 177.21 L546.07 176.68 L547.94 176.09 L549.82 175.46 L551.69 174.77 L553.56 174.05 L555.43 173.3 L557.31 172.52 L559.18 171.72 L561.05 170.92 L562.92 170.1 L564.79 169.29 L566.67 168.49 L568.54 167.7 L570.41 166.94 L572.28 166.2 L574.16 165.48 L576.03 164.8 L577.9 164.14 L579.77 163.52 L581.65 162.93 L583.52 162.38 L585.39 161.87 L587.26 161.4 L589.14 160.97 L591.01 160.58 L592.88 160.25 L594.75 159.96 L596.63 159.71 L598.5 159.51 L600.37 159.36 L602.25 159.24 L604.12 159.17 L605.99 159.13 L607.86 159.14 L609.74 159.18 L611.61 159.26 L613.48 159.37 L615.35 159.52 L617.23 159.69 L619.1 159.88 L620.97 160.08 L622.84 160.27 L624.72 160.44 L626.59 160.59 L628.46 160.71 L630.33 160.79 L632.2 160.81 L634.08 160.77 L635.95 160.66 L637.82 160.47 L639.7 160.21 L641.57 159.89 L643.44 159.51 L645.31 159.1 L647.18 158.67 L649.06 158.21 L650.93 157.75 L652.8 157.3 L654.67 156.86 L656.55 156.45 L658.42 156.08 L660.29 155.75 L662.16 155.47 L664.04 155.22 L665.91 155.01 L667.78 154.82 L669.65 154.65 L671.53 154.5 L673.4 154.36 L675.27 154.22 L677.14 154.08 L679.02 153.93 L680.89 153.77 L682.76 153.59 L684.63 153.39 L686.51 153.18 L688.38 152.95 L690.25 152.7 L692.12 152.45 L694 152.18 L695.87 151.9 L697.74 151.61 L699.62 151.31 L701.49 151.01 L703.36 150.7 L705.23 150.38 L707.1 150.07 L708.98 149.76 L710.85 149.45 L712.72 149.16 L714.59 148.88 L716.47 148.61 L718.34 148.37 L720.21 148.16 L722.08 147.97 L723.96 147.82 L725.83 147.71 L727.7 147.63 L729.56 147.59 L731.39 147.59 L733.18 147.61 L734.92 147.65 L736.6 147.72 L738.19 147.79 L739.7 147.88 L741.1 147.97 L742.39 148.07 L743.54 148.16 L744.55 148.24 L745.42 148.31 L746.13 148.36 L746.72 148.41 L747.19 148.45 L747.56 148.48 L747.83 148.5 L748.03 148.52 L748.16 148.53 L748.24 148.54 L748.28 148.54 L748.3 148.54 L748.3 148.54" fill="none" stroke="#c82020" stroke-width="0.8" stroke-linejoin="round"/>
<path d="M523.6 150.36 L523.6 150.36 L523.62 150.36 L523.66 150.37 L523.74 150.39 L523.87 150.41 L524.07 150.45 L524.34 150.51 L524.71 150.58 L525.18 150.68 L525.77 150.8 L526.48 150.94 L527.35 151.12 L528.36 151.32 L529.51 151.54 L530.8 151.78 L532.2 152.01 L533.71 152.22 L535.3 152.41 L536.98 152.57 L538.72 152.68 L540.51 152.72 L542.34 152.7 L544.2 152.6 L546.07 152.4 L547.94 152.11 L549.82 151.72 L551.69 151.26 L553.56 150.73 L555.43 150.16 L557.31 149.54 L559.18 148.91 L561.05 148.27 L562.92 147.63 L564.79 147.01 L566.67 146.43 L568.54 145.89 L570.41 145.41 L572.28 144.98 L574.16 144.6 L576.03 144.26 L577.9 143.96 L579.77 143.68 L581.65 143.43 L583.52 143.2 L585.39 142.98 L587.26 142.77 L589.14 142.55 L591.01 142.33 L592.88 142.09 L594.75 141.85 L596.63 141.58 L598.5 141.3 L600.37 141 L602.25 140.68 L604.12 140.34 L605.99 139.97 L607.86 139.58 L609.74 139.16 L611.61 138.72 L613.48 138.24 L615.35 137.73 L617.23 137.2 L619.1 136.67 L620.97 136.13 L622.84 135.6 L624.72 135.09 L626.59 134.6 L628.46 134.16 L630.33 133.77 L632.2 133.45 L634.08 133.19 L635.95 133.01 L637.82 132.92 L639.7 132.91 L641.57 132.96 L643.44 133.05 L645.31 133.18 L647.18 133.31 L649.06 133.45 L650.93 133.58 L652.8 133.67 L654.67 133.72 L656.55 133.71 L658.42 133.62 L660.29 133.44 L662.16 133.19 L664.04 132.87 L665.91 132.5 L667.78 132.1 L669.65 131.68 L671.53 131.24 L673.4 130.82 L675.27 130.41 L677.14 130.04 L679.02 129.71 L680.89 129.45 L682.76 129.26 L684.63 129.14 L686.51 129.09 L688.38 129.09 L690.25 129.15 L692.12 129.26 L694 129.42 L695.87 129.61 L697.74 129.83 L699.62 130.09 L701.49 130.37 L703.36 130.66 L705.23 130.97 L707.1 131.29 L708.98 131.61 L710.85 131.94 L712.72 132.27 L714.59 132.59 L716.47 132.91 L718.34 133.22 L720.21 133.52 L722.08 133.8 L723.96 134.06 L725.83 134.3 L727.7 134.51 L729.56 134.71 L731.39 134.87 L733.18 135.02 L734.92 135.15 L736.6 135.27 L738.19 135.36 L739.7 135.44 L741.1 135.51 L742.39 135.57 L743.54 135.62 L744.55 135.66 L745.42 135.7 L746.13 135.73 L746.72 135.75 L747.19 135.77 L747.56 135.78 L747.83 135.8 L748.03 135.8 L748.16 135.81 L748.24 135.81 L748.28 135.81 L748.3 135.81 L748.3 135.81" fill="none" stroke="#2e2e98" stroke-width="0.9" stroke-linejoin="round"/>
<path d="M523.6 172.63 L523.6 172.63 L523.62 172.63 L523.66 172.63 L523.74 172.63 L523.87 172.63 L524.07 172.63 L524.34 172.63 L524.71 172.63 L525.18 172.63 L525.77 172.63 L526.48 172.63 L527.35 172.63 L528.36 172.63 L529.51 172.63 L530.8 172.63 L532.2 172.62 L533.71 172.62 L535.3 172.61 L536.98 172.59 L538.72 172.57 L540.51 172.55 L542.34 172.52 L544.2 172.48 L546.07 172.44 L547.94 172.39 L549.82 172.33 L551.69 172.27 L553.56 172.21 L555.43 172.16 L557.31 172.1 L559.18 172.06 L561.05 172.02 L562.92 172 L564.79 171.99 L566.67 172 L568.54 172.02 L570.41 172.07 L572.28 172.14 L574.16 172.22 L576.03 172.3 L577.9 172.39 L579.77 172.48 L581.65 172.57 L583.52 172.64 L585.39 172.7 L587.26 172.74 L589.14 172.75 L591.01 172.74 L592.88 172.7 L594.75 172.63 L596.63 172.53 L598.5 172.42 L600.37 172.29 L602.25 172.15 L604.12 172.01 L605.99 171.87 L607.86 171.74 L609.74 171.61 L611.61 171.5 L613.48 171.42 L615.35 171.35 L617.23 171.31 L619.1 171.28 L620.97 171.26 L622.84 171.25 L624.72 171.24 L626.59 171.22 L628.46 171.19 L630.33 171.15 L632.2 171.09 L634.08 171 L635.95 170.89 L637.82 170.74 L639.7 170.56 L641.57 170.36 L643.44 170.15 L645.31 169.92 L647.18 169.69 L649.06 169.47 L650.93 169.25 L652.8 169.05 L654.67 168.88 L656.55 168.73 L658.42 168.61 L660.29 168.54 L662.16 168.5 L664.04 168.49 L665.91 168.5 L667.78 168.54 L669.65 168.59 L671.53 168.64 L673.4 168.7 L675.27 168.75 L677.14 168.8 L679.02 168.83 L680.89 168.84 L682.76 168.83 L684.63 168.8 L686.51 168.75 L688.38 168.69 L690.25 168.62 L692.12 168.55 L694 168.48 L695.87 168.41 L697.74 168.36 L699.62 168.32 L701.49 168.31 L703.36 168.31 L705.23 168.34 L707.1 168.4 L708.98 168.48 L710.85 168.57 L712.72 168.67 L714.59 168.78 L716.47 168.9 L718.34 169.01 L720.21 169.12 L722.08 169.22 L723.96 169.3 L725.83 169.37 L727.7 169.42 L729.56 169.44 L731.39 169.45 L733.18 169.45 L734.92 169.43 L736.6 169.4 L738.19 169.36 L739.7 169.32 L741.1 169.28 L742.39 169.23 L743.54 169.18 L744.55 169.14 L745.42 169.11 L746.13 169.08 L746.72 169.06 L747.19 169.04 L747.56 169.02 L747.83 169.01 L748.03 169 L748.16 169 L748.24 169 L748.28 168.99 L748.3 168.99 L748.3 168.99" fill="none" stroke="#4a8a4a" stroke-width="1" stroke-linejoin="round"/>
<path d="M523.6 182.63 L523.6 182.63 L523.62 182.63 L523.66 182.63 L523.74 182.64 L523.87 182.65 L524.07 182.66 L524.34 182.68 L524.71 182.71 L525.18 182.74 L525.77 182.78 L526.48 182.83 L527.35 182.89 L528.36 182.96 L529.51 183.04 L530.8 183.13 L532.2 183.22 L533.71 183.32 L535.3 183.41 L536.98 183.5 L538.72 183.59 L540.51 183.67 L542.34 183.74 L544.2 183.79 L546.07 183.84 L547.94 183.87 L549.82 183.89 L551.69 183.89 L553.56 183.89 L555.43 183.88 L557.31 183.86 L559.18 183.84 L561.05 183.82 L562.92 183.8 L564.79 183.78 L566.67 183.77 L568.54 183.76 L570.41 183.77 L572.28 183.78 L574.16 183.8 L576.03 183.82 L577.9 183.85 L579.77 183.87 L581.65 183.9 L583.52 183.92 L585.39 183.94 L587.26 183.95 L589.14 183.96 L591.01 183.95 L592.88 183.94 L594.75 183.92 L596.63 183.89 L598.5 183.86 L600.37 183.83 L602.25 183.8 L604.12 183.77 L605.99 183.76 L607.86 183.76 L609.74 183.77 L611.61 183.79 L613.48 183.84 L615.35 183.91 L617.23 183.99 L619.1 184.09 L620.97 184.2 L622.84 184.31 L624.72 184.42 L626.59 184.53 L628.46 184.63 L630.33 184.72 L632.2 184.79 L634.08 184.84 L635.95 184.86 L637.82 184.86 L639.7 184.83 L641.57 184.78 L643.44 184.72 L645.31 184.64 L647.18 184.56 L649.06 184.49 L650.93 184.42 L652.8 184.36 L654.67 184.31 L656.55 184.29 L658.42 184.29 L660.29 184.33 L662.16 184.39 L664.04 184.47 L665.91 184.56 L667.78 184.67 L669.65 184.77 L671.53 184.88 L673.4 184.97 L675.27 185.06 L677.14 185.12 L679.02 185.16 L680.89 185.17 L682.76 185.14 L684.63 185.08 L686.51 185 L688.38 184.9 L690.25 184.78 L692.12 184.65 L694 184.53 L695.87 184.4 L697.74 184.28 L699.62 184.18 L701.49 184.09 L703.36 184.03 L705.23 184 L707.1 183.99 L708.98 184.01 L710.85 184.05 L712.72 184.11 L714.59 184.19 L716.47 184.27 L718.34 184.37 L720.21 184.48 L722.08 184.59 L723.96 184.71 L725.83 184.82 L727.7 184.94 L729.56 185.04 L731.39 185.15 L733.18 185.25 L734.92 185.34 L736.6 185.44 L738.19 185.52 L739.7 185.6 L741.1 185.67 L742.39 185.74 L743.54 185.8 L744.55 185.85 L745.42 185.89 L746.13 185.93 L746.72 185.96 L747.19 185.98 L747.56 186 L747.83 186.01 L748.03 186.02 L748.16 186.03 L748.24 186.03 L748.28 186.04 L748.3 186.04 L748.3 186.04" fill="none" stroke="#d67ad6" stroke-width="1.4" stroke-linejoin="round"/>
<path d="M523.6 186.18L527 180.26L520.2 180.26Z" fill="#fff" stroke="#c43cc4" stroke-width="0.8"/>
<path d="M546.07 187.77L549.47 181.85L542.67 181.85Z" fill="#fff" stroke="#c43cc4" stroke-width="0.8"/>
<path d="M568.54 187.09L571.94 181.17L565.14 181.17Z" fill="#fff" stroke="#c43cc4" stroke-width="0.8"/>
<path d="M591.01 187.77L594.41 181.85L587.61 181.85Z" fill="#fff" stroke="#c43cc4" stroke-width="0.8"/>
<path d="M613.48 186.86L616.88 180.94L610.08 180.94Z" fill="#fff" stroke="#c43cc4" stroke-width="0.8"/>
<path d="M635.95 189.13L639.35 183.22L632.55 183.22Z" fill="#fff" stroke="#c43cc4" stroke-width="0.8"/>
<path d="M658.42 187.09L661.82 181.17L655.02 181.17Z" fill="#fff" stroke="#c43cc4" stroke-width="0.8"/>
<path d="M680.89 189.59L684.29 183.67L677.49 183.67Z" fill="#fff" stroke="#c43cc4" stroke-width="0.8"/>
<path d="M703.36 186.86L706.76 180.94L699.96 180.94Z" fill="#fff" stroke="#c43cc4" stroke-width="0.8"/>
<path d="M725.83 188.45L729.23 182.53L722.43 182.53Z" fill="#fff" stroke="#c43cc4" stroke-width="0.8"/>
<path d="M748.3 189.59L751.7 183.67L744.9 183.67Z" fill="#fff" stroke="#c43cc4" stroke-width="0.8"/>
<path d="M523.6 169.18L526.9 174.93L520.3 174.93Z" fill="#fff" stroke="#2f7a2f" stroke-width="0.8"/>
<path d="M546.07 169.18L549.37 174.93L542.77 174.93Z" fill="#fff" stroke="#2f7a2f" stroke-width="0.8"/>
<path d="M568.54 168.05L571.84 173.79L565.24 173.79Z" fill="#fff" stroke="#2f7a2f" stroke-width="0.8"/>
<path d="M591.01 170.09L594.31 175.83L587.71 175.83Z" fill="#fff" stroke="#2f7a2f" stroke-width="0.8"/>
<path d="M613.48 167.37L616.78 173.11L610.18 173.11Z" fill="#fff" stroke="#2f7a2f" stroke-width="0.8"/>
<path d="M635.95 168.27L639.25 174.02L632.65 174.02Z" fill="#fff" stroke="#2f7a2f" stroke-width="0.8"/>
<path d="M658.42 164.18L661.72 169.93L655.12 169.93Z" fill="#fff" stroke="#2f7a2f" stroke-width="0.8"/>
<path d="M680.89 166L684.19 171.74L677.59 171.74Z" fill="#fff" stroke="#2f7a2f" stroke-width="0.8"/>
<path d="M703.36 164.18L706.66 169.93L700.06 169.93Z" fill="#fff" stroke="#2f7a2f" stroke-width="0.8"/>
<path d="M725.83 166.46L729.13 172.2L722.53 172.2Z" fill="#fff" stroke="#2f7a2f" stroke-width="0.8"/>
<path d="M748.3 165.55L751.6 171.29L745 171.29Z" fill="#fff" stroke="#2f7a2f" stroke-width="0.8"/>
<circle cx="523.6" cy="150.36" r="2.9" fill="#00f"/>
<circle cx="546.07" cy="154.9" r="2.9" fill="#00f"/>
<circle cx="568.54" cy="144.45" r="2.9" fill="#00f"/>
<circle cx="591.01" cy="142.63" r="2.9" fill="#00f"/>
<circle cx="613.48" cy="139" r="2.9" fill="#00f"/>
<circle cx="635.95" cy="130.81" r="2.9" fill="#00f"/>
<circle cx="658.42" cy="135.81" r="2.9" fill="#00f"/>
<circle cx="680.89" cy="127.63" r="2.9" fill="#00f"/>
<circle cx="703.36" cy="130.36" r="2.9" fill="#00f"/>
<circle cx="725.83" cy="134.91" r="2.9" fill="#00f"/>
<circle cx="748.3" cy="135.81" r="2.9" fill="#00f"/>
<path d="M523.6 176.88L527.3 180.58L523.6 184.28L519.9 180.58Z" fill="#f00"/>
<path d="M546.07 174.38L549.77 178.08L546.07 181.78L542.37 178.08Z" fill="#f00"/>
<path d="M568.54 163.47L572.24 167.17L568.54 170.87L564.84 167.17Z" fill="#f00"/>
<path d="M591.01 155.75L594.71 159.45L591.01 163.15L587.31 159.45Z" fill="#f00"/>
<path d="M613.48 154.84L617.18 158.54L613.48 162.24L609.78 158.54Z" fill="#f00"/>
<path d="M635.95 158.93L639.65 162.63L635.95 166.33L632.25 162.63Z" fill="#f00"/>
<path d="M658.42 151.2L662.12 154.9L658.42 158.6L654.72 154.9Z" fill="#f00"/>
<path d="M680.89 150.52L684.59 154.22L680.89 157.92L677.19 154.22Z" fill="#f00"/>
<path d="M703.36 147.11L707.06 150.81L703.36 154.51L699.66 150.81Z" fill="#f00"/>
<path d="M725.83 143.02L729.53 146.72L725.83 150.42L722.13 146.72Z" fill="#f00"/>
<path d="M748.3 144.84L752 148.54L748.3 152.24L744.6 148.54Z" fill="#f00"/>
<rect x="520.95" y="17.72" width="5.3" height="5.3" fill="#000"/>
<rect x="543.42" y="12.72" width="5.3" height="5.3" fill="#000"/>
<rect x="565.89" y="38.17" width="5.3" height="5.3" fill="#000"/>
<rect x="588.36" y="43.85" width="5.3" height="5.3" fill="#000"/>
<rect x="610.83" y="51.81" width="5.3" height="5.3" fill="#000"/>
<rect x="633.3" y="50.9" width="5.3" height="5.3" fill="#000"/>
<rect x="655.77" y="59.76" width="5.3" height="5.3" fill="#000"/>
<rect x="678.24" y="64.31" width="5.3" height="5.3" fill="#000"/>
<rect x="700.71" y="69.99" width="5.3" height="5.3" fill="#000"/>
<rect x="723.18" y="66.13" width="5.3" height="5.3" fill="#000"/>
<rect x="745.65" y="62.72" width="5.3" height="5.3" fill="#000"/>
</g>
<path d="M568.54 187.4v-3.5 M613.48 187.4v-3.5 M658.42 187.4v-3.5 M703.36 187.4v-3.5 M523.5 187.4h3.5 M523.5 164.68h2.2 M523.5 141.95h3.5 M523.5 119.23h2.2 M523.5 96.5h3.5 M523.5 73.78h2.2 M523.5 51.05h3.5 M523.5 28.33h2.2 M523.5 5.6h3.5" stroke="#000" stroke-width="1" fill="none"/>
<rect x="523.5" y="5.6" width="225.7" height="181.8" fill="none" stroke="#000" stroke-width="1.3"/>
<text x="523.8" y="200.6" class="tl" text-anchor="middle">0</text>
<text x="568.94" y="200.6" class="tl" text-anchor="middle">20</text>
<text x="614.08" y="200.6" class="tl" text-anchor="middle">40</text>
<text x="659.22" y="200.6" class="tl" text-anchor="middle">60</text>
<text x="704.36" y="200.6" class="tl" text-anchor="middle">80</text>
<text x="749.5" y="200.6" class="tl" text-anchor="middle">100</text>
<text x="636.85" y="217.2" class="at" text-anchor="middle">Etching time (s)</text>
<text x="622.5" y="24.6" class="pl">(c)</text>
<rect x="199.8" y="9.2" width="56" height="58" fill="#fff" stroke="#555" stroke-width="0.9"/>
<path d="M200.3 15.2H216.5" stroke="#777" stroke-width="1"/>
<rect x="205.2" y="12.4" width="5.6" height="5.6" fill="#000"/>
<text x="218.8" y="18.5" class="lg">C-C, C-H</text>
<path d="M200.3 26.6H216.5" stroke="#e01010" stroke-width="1"/>
<path d="M208 23.1L211.5 26.6L208 30.1L204.5 26.6Z" fill="#f00"/>
<text x="218.8" y="29.9" class="lg">C-Si</text>
<path d="M200.3 39.1H216.5" stroke="#3030d0" stroke-width="1"/>
<circle cx="208.2" cy="39.1" r="3" fill="#00f"/>
<text x="218.8" y="42.4" class="lg">C-C(<tspan font-family="Liberation Sans" font-size="9">sp</tspan><tspan font-size="6" dy="-3.5">3</tspan><tspan dy="3.5">)</tspan></text>
<path d="M200.3 50.2H216.5" stroke="#4a8a4a" stroke-width="1"/>
<path d="M208.2 46.44L211.8 52.71L204.6 52.71Z" fill="#fff" stroke="#2f7a2f" stroke-width="0.9"/>
<text x="218.8" y="53.5" class="lg">C-O</text>
<path d="M200.3 61.9H216.5" stroke="#d67ad6" stroke-width="1"/>
<path d="M208.2 65.66L211.8 59.39L204.6 59.39Z" fill="#fff" stroke="#c43cc4" stroke-width="0.9"/>
<text x="218.8" y="65.2" class="lg">C=O</text>
<path d="M72.72 232.5V406.75 M110.43 232.5V406.75 M148.15 232.5V406.75 M185.87 232.5V406.75 M223.58 232.5V406.75 M35 350.5H261.3 M35 294.25H261.3 M35 238H261.3" stroke="#cfcfcf" stroke-width="1" fill="none"/>
<clipPath id="cb0"><rect x="35" y="232.5" width="226.3" height="174.25"/></clipPath>
<g clip-path="url(#cb0)">
<path d="M140.61 401.34L143.21 403.94L140.61 406.54L138.01 403.94Z" fill="#f00"/>
<path d="M144.38 401.9L146.98 404.5L144.38 407.1L141.78 404.5Z" fill="#f00"/>
<path d="M148.15 402.46L150.75 405.06L148.15 407.66L145.55 405.06Z" fill="#f00"/>
<path d="M151.92 403.02L154.52 405.62L151.92 408.23L149.32 405.62Z" fill="#f00"/>
<path d="M155.69 403.47L158.29 406.07L155.69 408.68L153.09 406.07Z" fill="#f00"/>
<path d="M159.47 403.75L162.07 406.35L159.47 408.95L156.87 406.35Z" fill="#f00"/>
<path d="M163.24 404.15L165.84 406.75L163.24 409.35L160.64 406.75Z" fill="#f00"/>
<path d="M167.01 404.15L169.61 406.75L167.01 409.35L164.41 406.75Z" fill="#f00"/>
<path d="M170.78 404.15L173.38 406.75L170.78 409.35L168.18 406.75Z" fill="#f00"/>
<path d="M174.55 404.15L177.15 406.75L174.55 409.35L171.95 406.75Z" fill="#f00"/>
<path d="M178.32 404.15L180.92 406.75L178.32 409.35L175.72 406.75Z" fill="#f00"/>
<path d="M182.1 404.15L184.7 406.75L182.1 409.35L179.5 406.75Z" fill="#f00"/>
<path d="M185.87 404.15L188.47 406.75L185.87 409.35L183.27 406.75Z" fill="#f00"/>
<path d="M189.64 404.15L192.24 406.75L189.64 409.35L187.04 406.75Z" fill="#f00"/>
<path d="M193.41 404.15L196.01 406.75L193.41 409.35L190.81 406.75Z" fill="#f00"/>
<path d="M197.18 404.15L199.78 406.75L197.18 409.35L194.58 406.75Z" fill="#f00"/>
<path d="M200.95 404.15L203.55 406.75L200.95 409.35L198.35 406.75Z" fill="#f00"/>
<path d="M204.73 404.15L207.33 406.75L204.73 409.35L202.13 406.75Z" fill="#f00"/>
<path d="M208.5 404.15L211.1 406.75L208.5 409.35L205.9 406.75Z" fill="#f00"/>
<path d="M212.27 404.15L214.87 406.75L212.27 409.35L209.67 406.75Z" fill="#f00"/>
<path d="M216.04 404.15L218.64 406.75L216.04 409.35L213.44 406.75Z" fill="#f00"/>
<path d="M219.81 404.15L222.41 406.75L219.81 409.35L217.21 406.75Z" fill="#f00"/>
<path d="M223.58 404.15L226.18 406.75L223.58 409.35L220.98 406.75Z" fill="#f00"/>
<path d="M227.36 404.15L229.96 406.75L227.36 409.35L224.76 406.75Z" fill="#f00"/>
<path d="M231.13 404.15L233.73 406.75L231.13 409.35L228.53 406.75Z" fill="#f00"/>
<path d="M234.9 404.15L237.5 406.75L234.9 409.35L232.3 406.75Z" fill="#f00"/>
<path d="M238.67 404.15L241.27 406.75L238.67 409.35L236.07 406.75Z" fill="#f00"/>
<path d="M242.44 404.15L245.04 406.75L242.44 409.35L239.84 406.75Z" fill="#f00"/>
<path d="M246.21 404.15L248.81 406.75L246.21 409.35L243.61 406.75Z" fill="#f00"/>
<path d="M249.99 404.15L252.59 406.75L249.99 409.35L247.39 406.75Z" fill="#f00"/>
<path d="M253.76 404.15L256.36 406.75L253.76 409.35L251.16 406.75Z" fill="#f00"/>
<path d="M257.53 404.15L260.13 406.75L257.53 409.35L254.93 406.75Z" fill="#f00"/>
<path d="M261.3 404.15L263.9 406.75L261.3 409.35L258.7 406.75Z" fill="#f00"/>
<circle cx="133.06" cy="403.94" r="1.95" fill="#00f"/>
<circle cx="136.84" cy="404.5" r="1.95" fill="#00f"/>
<circle cx="140.61" cy="405.06" r="1.95" fill="#00f"/>
<circle cx="144.38" cy="405.62" r="1.95" fill="#00f"/>
<circle cx="148.15" cy="406.07" r="1.95" fill="#00f"/>
<circle cx="151.92" cy="406.35" r="1.95" fill="#00f"/>
<circle cx="155.69" cy="406.75" r="1.95" fill="#00f"/>
<circle cx="159.47" cy="406.75" r="1.95" fill="#00f"/>
<circle cx="163.24" cy="406.75" r="1.95" fill="#00f"/>
<circle cx="167.01" cy="406.75" r="1.95" fill="#00f"/>
<circle cx="170.78" cy="406.75" r="1.95" fill="#00f"/>
<circle cx="174.55" cy="406.75" r="1.95" fill="#00f"/>
<circle cx="178.32" cy="406.75" r="1.95" fill="#00f"/>
<circle cx="182.1" cy="406.75" r="1.95" fill="#00f"/>
<circle cx="185.87" cy="406.75" r="1.95" fill="#00f"/>
<circle cx="189.64" cy="406.75" r="1.95" fill="#00f"/>
<circle cx="193.41" cy="406.75" r="1.95" fill="#00f"/>
<circle cx="197.18" cy="406.75" r="1.95" fill="#00f"/>
<circle cx="200.95" cy="406.75" r="1.95" fill="#00f"/>
<circle cx="204.73" cy="406.75" r="1.95" fill="#00f"/>
<circle cx="208.5" cy="406.75" r="1.95" fill="#00f"/>
<circle cx="212.27" cy="406.75" r="1.95" fill="#00f"/>
<circle cx="216.04" cy="406.75" r="1.95" fill="#00f"/>
<circle cx="219.81" cy="406.75" r="1.95" fill="#00f"/>
<circle cx="223.58" cy="406.75" r="1.95" fill="#00f"/>
<circle cx="227.36" cy="406.75" r="1.95" fill="#00f"/>
<circle cx="231.13" cy="406.75" r="1.95" fill="#00f"/>
<circle cx="234.9" cy="406.75" r="1.95" fill="#00f"/>
<circle cx="238.67" cy="406.75" r="1.95" fill="#00f"/>
<circle cx="242.44" cy="406.75" r="1.95" fill="#00f"/>
<circle cx="246.21" cy="406.75" r="1.95" fill="#00f"/>
<circle cx="249.99" cy="406.75" r="1.95" fill="#00f"/>
<circle cx="253.76" cy="406.75" r="1.95" fill="#00f"/>
<circle cx="257.53" cy="406.75" r="1.95" fill="#00f"/>
<circle cx="261.3" cy="406.75" r="1.95" fill="#00f"/>
<path d="M38.77 359.1L40.77 362.58L36.77 362.58Z" fill="#fff" stroke="#2f7a2f" stroke-width="0.75"/>
<path d="M42.54 359.66L44.54 363.14L40.54 363.14Z" fill="#fff" stroke="#2f7a2f" stroke-width="0.75"/>
<path d="M46.32 361.35L48.32 364.83L44.32 364.83Z" fill="#fff" stroke="#2f7a2f" stroke-width="0.75"/>
<path d="M50.09 363.6L52.09 367.08L48.09 367.08Z" fill="#fff" stroke="#2f7a2f" stroke-width="0.75"/>
<path d="M53.86 366.41L55.86 369.89L51.86 369.89Z" fill="#fff" stroke="#2f7a2f" stroke-width="0.75"/>
<path d="M57.63 369.22L59.63 372.7L55.63 372.7Z" fill="#fff" stroke="#2f7a2f" stroke-width="0.75"/>
<path d="M61.4 371.47L63.4 374.95L59.4 374.95Z" fill="#fff" stroke="#2f7a2f" stroke-width="0.75"/>
<path d="M65.17 374.85L67.17 378.33L63.17 378.33Z" fill="#fff" stroke="#2f7a2f" stroke-width="0.75"/>
<path d="M68.94 375.97L70.94 379.45L66.94 379.45Z" fill="#fff" stroke="#2f7a2f" stroke-width="0.75"/>
<path d="M72.72 377.66L74.72 381.14L70.72 381.14Z" fill="#fff" stroke="#2f7a2f" stroke-width="0.75"/>
<path d="M76.49 379.91L78.49 383.39L74.49 383.39Z" fill="#fff" stroke="#2f7a2f" stroke-width="0.75"/>
<path d="M80.26 383.29L82.26 386.77L78.26 386.77Z" fill="#fff" stroke="#2f7a2f" stroke-width="0.75"/>
<path d="M84.03 387.79L86.03 391.27L82.03 391.27Z" fill="#fff" stroke="#2f7a2f" stroke-width="0.75"/>
<path d="M87.8 388.91L89.8 392.39L85.8 392.39Z" fill="#fff" stroke="#2f7a2f" stroke-width="0.75"/>
<path d="M91.58 391.16L93.58 394.64L89.58 394.64Z" fill="#fff" stroke="#2f7a2f" stroke-width="0.75"/>
<path d="M95.35 392.85L97.35 396.33L93.35 396.33Z" fill="#fff" stroke="#2f7a2f" stroke-width="0.75"/>
<path d="M99.12 395.1L101.12 398.58L97.12 398.58Z" fill="#fff" stroke="#2f7a2f" stroke-width="0.75"/>
<path d="M102.89 397.35L104.89 400.83L100.89 400.83Z" fill="#fff" stroke="#2f7a2f" stroke-width="0.75"/>
<path d="M106.66 397.35L108.66 400.83L104.66 400.83Z" fill="#fff" stroke="#2f7a2f" stroke-width="0.75"/>
<path d="M110.43 399.04L112.43 402.52L108.43 402.52Z" fill="#fff" stroke="#2f7a2f" stroke-width="0.75"/>
<path d="M114.21 400.72L116.21 404.2L112.21 404.2Z" fill="#fff" stroke="#2f7a2f" stroke-width="0.75"/>
<path d="M117.98 401.85L119.98 405.33L115.98 405.33Z" fill="#fff" stroke="#2f7a2f" stroke-width="0.75"/>
<path d="M121.75 402.41L123.75 405.89L119.75 405.89Z" fill="#fff" stroke="#2f7a2f" stroke-width="0.75"/>
<path d="M125.52 402.97L127.52 406.45L123.52 406.45Z" fill="#fff" stroke="#2f7a2f" stroke-width="0.75"/>
<path d="M129.29 403.26L131.29 406.74L127.29 406.74Z" fill="#fff" stroke="#2f7a2f" stroke-width="0.75"/>
<path d="M133.06 403.26L135.06 406.74L131.06 406.74Z" fill="#fff" stroke="#2f7a2f" stroke-width="0.75"/>
<path d="M136.84 403.26L138.84 406.74L134.84 406.74Z" fill="#fff" stroke="#2f7a2f" stroke-width="0.75"/>
<path d="M140.61 403.26L142.61 406.74L138.61 406.74Z" fill="#fff" stroke="#2f7a2f" stroke-width="0.75"/>
<path d="M38.77 343.59L40.77 340.11L36.77 340.11Z" fill="#fff" stroke="#c43cc4" stroke-width="0.75"/>
<path d="M42.54 344.71L44.54 341.23L40.54 341.23Z" fill="#fff" stroke="#c43cc4" stroke-width="0.75"/>
<path d="M46.32 347.53L48.32 344.05L44.32 344.05Z" fill="#fff" stroke="#c43cc4" stroke-width="0.75"/>
<path d="M50.09 350.9L52.09 347.42L48.09 347.42Z" fill="#fff" stroke="#c43cc4" stroke-width="0.75"/>
<path d="M53.86 355.4L55.86 351.92L51.86 351.92Z" fill="#fff" stroke="#c43cc4" stroke-width="0.75"/>
<path d="M57.63 359.9L59.63 356.42L55.63 356.42Z" fill="#fff" stroke="#c43cc4" stroke-width="0.75"/>
<path d="M61.4 362.15L63.4 358.67L59.4 358.67Z" fill="#fff" stroke="#c43cc4" stroke-width="0.75"/>
<path d="M65.17 366.65L67.17 363.17L63.17 363.17Z" fill="#fff" stroke="#c43cc4" stroke-width="0.75"/>
<path d="M68.94 368.9L70.94 365.42L66.94 365.42Z" fill="#fff" stroke="#c43cc4" stroke-width="0.75"/>
<path d="M72.72 370.59L74.72 367.11L70.72 367.11Z" fill="#fff" stroke="#c43cc4" stroke-width="0.75"/>
<path d="M76.49 373.4L78.49 369.92L74.49 369.92Z" fill="#fff" stroke="#c43cc4" stroke-width="0.75"/>
<path d="M80.26 379.03L82.26 375.55L78.26 375.55Z" fill="#fff" stroke="#c43cc4" stroke-width="0.75"/>
<path d="M84.03 384.09L86.03 380.61L82.03 380.61Z" fill="#fff" stroke="#c43cc4" stroke-width="0.75"/>
<path d="M87.8 385.21L89.8 381.73L85.8 381.73Z" fill="#fff" stroke="#c43cc4" stroke-width="0.75"/>
<path d="M91.58 388.59L93.58 385.11L89.58 385.11Z" fill="#fff" stroke="#c43cc4" stroke-width="0.75"/>
<path d="M95.35 390.84L97.35 387.36L93.35 387.36Z" fill="#fff" stroke="#c43cc4" stroke-width="0.75"/>
<path d="M99.12 394.21L101.12 390.73L97.12 390.73Z" fill="#fff" stroke="#c43cc4" stroke-width="0.75"/>
<path d="M102.89 397.03L104.89 393.55L100.89 393.55Z" fill="#fff" stroke="#c43cc4" stroke-width="0.75"/>
<path d="M106.66 397.03L108.66 393.55L104.66 393.55Z" fill="#fff" stroke="#c43cc4" stroke-width="0.75"/>
<path d="M110.43 399.84L112.43 396.36L108.43 396.36Z" fill="#fff" stroke="#c43cc4" stroke-width="0.75"/>
<path d="M114.21 401.53L116.21 398.05L112.21 398.05Z" fill="#fff" stroke="#c43cc4" stroke-width="0.75"/>
<path d="M117.98 402.65L119.98 399.17L115.98 399.17Z" fill="#fff" stroke="#c43cc4" stroke-width="0.75"/>
<path d="M121.75 403.78L123.75 400.3L119.75 400.3Z" fill="#fff" stroke="#c43cc4" stroke-width="0.75"/>
<path d="M125.52 404.9L127.52 401.42L123.52 401.42Z" fill="#fff" stroke="#c43cc4" stroke-width="0.75"/>
<path d="M129.29 406.03L131.29 402.55L127.29 402.55Z" fill="#fff" stroke="#c43cc4" stroke-width="0.75"/>
<path d="M133.06 406.59L135.06 403.11L131.06 403.11Z" fill="#fff" stroke="#c43cc4" stroke-width="0.75"/>
<path d="M136.84 407.15L138.84 403.67L134.84 403.67Z" fill="#fff" stroke="#c43cc4" stroke-width="0.75"/>
<path d="M140.61 407.43L142.61 403.95L138.61 403.95Z" fill="#fff" stroke="#c43cc4" stroke-width="0.75"/>
<rect x="135.34" y="403.8" width="125.97" height="3" fill="#b4aab8"/>
<rect x="135.74" y="403.6" width="2.2" height="3.2" fill="#3a2440"/>
<rect x="139.51" y="403.6" width="2.2" height="3.2" fill="#3a2440"/>
<rect x="143.28" y="403.6" width="2.2" height="3.2" fill="#3a2440"/>
<rect x="147.05" y="403.6" width="2.2" height="3.2" fill="#3a2440"/>
<rect x="150.82" y="403.6" width="2.2" height="3.2" fill="#3a2440"/>
<rect x="154.59" y="403.6" width="2.2" height="3.2" fill="#3a2440"/>
<rect x="158.37" y="403.6" width="2.2" height="3.2" fill="#3a2440"/>
<rect x="162.14" y="403.6" width="2.2" height="3.2" fill="#3a2440"/>
<rect x="165.91" y="403.6" width="2.2" height="3.2" fill="#3a2440"/>
<rect x="169.68" y="403.6" width="2.2" height="3.2" fill="#3a2440"/>
<rect x="173.45" y="403.6" width="2.2" height="3.2" fill="#3a2440"/>
<rect x="177.22" y="403.6" width="2.2" height="3.2" fill="#3a2440"/>
<rect x="181" y="403.6" width="2.2" height="3.2" fill="#3a2440"/>
<rect x="184.77" y="403.6" width="2.2" height="3.2" fill="#3a2440"/>
<rect x="188.54" y="403.6" width="2.2" height="3.2" fill="#3a2440"/>
<rect x="192.31" y="403.6" width="2.2" height="3.2" fill="#3a2440"/>
<rect x="196.08" y="403.6" width="2.2" height="3.2" fill="#3a2440"/>
<rect x="199.85" y="403.6" width="2.2" height="3.2" fill="#3a2440"/>
<rect x="203.63" y="403.6" width="2.2" height="3.2" fill="#3a2440"/>
<rect x="207.4" y="403.6" width="2.2" height="3.2" fill="#3a2440"/>
<rect x="211.17" y="403.6" width="2.2" height="3.2" fill="#3a2440"/>
<rect x="214.94" y="403.6" width="2.2" height="3.2" fill="#3a2440"/>
<rect x="218.71" y="403.6" width="2.2" height="3.2" fill="#3a2440"/>
<rect x="222.48" y="403.6" width="2.2" height="3.2" fill="#3a2440"/>
<rect x="226.26" y="403.6" width="2.2" height="3.2" fill="#3a2440"/>
<rect x="230.03" y="403.6" width="2.2" height="3.2" fill="#3a2440"/>
<rect x="233.8" y="403.6" width="2.2" height="3.2" fill="#3a2440"/>
<rect x="237.57" y="403.6" width="2.2" height="3.2" fill="#3a2440"/>
<rect x="241.34" y="403.6" width="2.2" height="3.2" fill="#3a2440"/>
<rect x="245.11" y="403.6" width="2.2" height="3.2" fill="#3a2440"/>
<rect x="248.89" y="403.6" width="2.2" height="3.2" fill="#3a2440"/>
<rect x="252.66" y="403.6" width="2.2" height="3.2" fill="#3a2440"/>
<rect x="256.43" y="403.6" width="2.2" height="3.2" fill="#3a2440"/>
<rect x="260.2" y="403.6" width="2.2" height="3.2" fill="#3a2440"/>
<rect x="36.92" y="300.27" width="3.7" height="3.7" fill="#000"/>
<rect x="40.69" y="301.96" width="3.7" height="3.7" fill="#000"/>
<rect x="44.47" y="307.02" width="3.7" height="3.7" fill="#000"/>
<rect x="48.24" y="312.09" width="3.7" height="3.7" fill="#000"/>
<rect x="52.01" y="319.96" width="3.7" height="3.7" fill="#000"/>
<rect x="55.78" y="327.27" width="3.7" height="3.7" fill="#000"/>
<rect x="59.55" y="330.09" width="3.7" height="3.7" fill="#000"/>
<rect x="63.32" y="337.4" width="3.7" height="3.7" fill="#000"/>
<rect x="67.09" y="341.9" width="3.7" height="3.7" fill="#000"/>
<rect x="70.87" y="343.59" width="3.7" height="3.7" fill="#000"/>
<rect x="74.64" y="348.65" width="3.7" height="3.7" fill="#000"/>
<rect x="78.41" y="357.65" width="3.7" height="3.7" fill="#000"/>
<rect x="82.18" y="366.65" width="3.7" height="3.7" fill="#000"/>
<rect x="85.95" y="368.9" width="3.7" height="3.7" fill="#000"/>
<rect x="89.73" y="373.96" width="3.7" height="3.7" fill="#000"/>
<rect x="93.5" y="377.34" width="3.7" height="3.7" fill="#000"/>
<rect x="97.27" y="382.4" width="3.7" height="3.7" fill="#000"/>
<rect x="101.04" y="388.02" width="3.7" height="3.7" fill="#000"/>
<rect x="104.81" y="388.02" width="3.7" height="3.7" fill="#000"/>
<rect x="108.58" y="391.96" width="3.7" height="3.7" fill="#000"/>
<rect x="112.36" y="394.77" width="3.7" height="3.7" fill="#000"/>
<rect x="116.13" y="396.46" width="3.7" height="3.7" fill="#000"/>
<rect x="119.9" y="398.15" width="3.7" height="3.7" fill="#000"/>
<rect x="123.67" y="399.27" width="3.7" height="3.7" fill="#000"/>
<rect x="127.44" y="400.4" width="3.7" height="3.7" fill="#000"/>
<rect x="131.21" y="401.52" width="3.7" height="3.7" fill="#000"/>
<circle cx="38.77" cy="325.19" r="1.95" fill="#00f"/>
<circle cx="42.54" cy="326.31" r="1.95" fill="#00f"/>
<circle cx="46.32" cy="329.69" r="1.95" fill="#00f"/>
<circle cx="50.09" cy="334.19" r="1.95" fill="#00f"/>
<circle cx="53.86" cy="340.38" r="1.95" fill="#00f"/>
<circle cx="57.63" cy="344.88" r="1.95" fill="#00f"/>
<circle cx="61.4" cy="348.81" r="1.95" fill="#00f"/>
<circle cx="65.17" cy="354.44" r="1.95" fill="#00f"/>
<circle cx="68.94" cy="357.25" r="1.95" fill="#00f"/>
<circle cx="72.72" cy="358.94" r="1.95" fill="#00f"/>
<circle cx="76.49" cy="363.44" r="1.95" fill="#00f"/>
<circle cx="80.26" cy="369.62" r="1.95" fill="#00f"/>
<circle cx="84.03" cy="376.94" r="1.95" fill="#00f"/>
<circle cx="87.8" cy="378.62" r="1.95" fill="#00f"/>
<circle cx="91.58" cy="382.56" r="1.95" fill="#00f"/>
<circle cx="95.35" cy="385.38" r="1.95" fill="#00f"/>
<circle cx="99.12" cy="389.88" r="1.95" fill="#00f"/>
<circle cx="102.89" cy="393.25" r="1.95" fill="#00f"/>
<circle cx="106.66" cy="393.25" r="1.95" fill="#00f"/>
<circle cx="110.43" cy="395.5" r="1.95" fill="#00f"/>
<circle cx="114.21" cy="397.75" r="1.95" fill="#00f"/>
<circle cx="117.98" cy="399.44" r="1.95" fill="#00f"/>
<circle cx="121.75" cy="400.56" r="1.95" fill="#00f"/>
<circle cx="125.52" cy="401.69" r="1.95" fill="#00f"/>
<circle cx="129.29" cy="402.81" r="1.95" fill="#00f"/>
<path d="M38.77 291.09L41.37 293.69L38.77 296.29L36.17 293.69Z" fill="#f00"/>
<path d="M42.54 292.21L45.14 294.81L42.54 297.41L39.94 294.81Z" fill="#f00"/>
<path d="M46.32 296.71L48.92 299.31L46.32 301.91L43.72 299.31Z" fill="#f00"/>
<path d="M50.09 303.46L52.69 306.06L50.09 308.66L47.49 306.06Z" fill="#f00"/>
<path d="M53.86 311.34L56.46 313.94L53.86 316.54L51.26 313.94Z" fill="#f00"/>
<path d="M57.63 319.21L60.23 321.81L57.63 324.41L55.03 321.81Z" fill="#f00"/>
<path d="M61.4 323.15L64 325.75L61.4 328.35L58.8 325.75Z" fill="#f00"/>
<path d="M65.17 330.46L67.77 333.06L65.17 335.66L62.57 333.06Z" fill="#f00"/>
<path d="M68.94 335.52L71.54 338.12L68.94 340.73L66.34 338.12Z" fill="#f00"/>
<path d="M72.72 337.77L75.32 340.38L72.72 342.98L70.12 340.38Z" fill="#f00"/>
<path d="M76.49 342.27L79.09 344.88L76.49 347.48L73.89 344.88Z" fill="#f00"/>
<path d="M80.26 352.4L82.86 355L80.26 357.6L77.66 355Z" fill="#f00"/>
<path d="M84.03 362.52L86.63 365.12L84.03 367.73L81.43 365.12Z" fill="#f00"/>
<path d="M87.8 364.77L90.4 367.38L87.8 369.98L85.2 367.38Z" fill="#f00"/>
<path d="M91.58 370.96L94.17 373.56L91.58 376.16L88.98 373.56Z" fill="#f00"/>
<path d="M95.35 374.34L97.95 376.94L95.35 379.54L92.75 376.94Z" fill="#f00"/>
<path d="M99.12 379.96L101.72 382.56L99.12 385.16L96.52 382.56Z" fill="#f00"/>
<path d="M102.89 385.02L105.49 387.62L102.89 390.23L100.29 387.62Z" fill="#f00"/>
<path d="M106.66 385.02L109.26 387.62L106.66 390.23L104.06 387.62Z" fill="#f00"/>
<path d="M110.43 388.96L113.03 391.56L110.43 394.16L107.83 391.56Z" fill="#f00"/>
<path d="M114.21 392.34L116.81 394.94L114.21 397.54L111.61 394.94Z" fill="#f00"/>
<path d="M117.98 394.02L120.58 396.62L117.98 399.23L115.38 396.62Z" fill="#f00"/>
<path d="M121.75 395.71L124.35 398.31L121.75 400.91L119.15 398.31Z" fill="#f00"/>
<path d="M125.52 397.4L128.12 400L125.52 402.6L122.92 400Z" fill="#f00"/>
<path d="M129.29 398.52L131.89 401.12L129.29 403.73L126.69 401.12Z" fill="#f00"/>
<path d="M133.06 399.65L135.66 402.25L133.06 404.85L130.46 402.25Z" fill="#f00"/>
<path d="M136.84 400.77L139.44 403.38L136.84 405.98L134.24 403.38Z" fill="#f00"/>
</g>
<path d="M35 406.75v-3 M72.72 406.75v-3 M110.43 406.75v-3 M148.15 406.75v-3 M185.87 406.75v-3 M223.58 406.75v-3 M261.3 406.75v-3 M35 406.75h3 M35 378.62h2 M35 350.5h3 M35 322.38h2 M35 294.25h3 M35 266.12h2 M35 238h3" stroke="#000" stroke-width="1" fill="none"/>
<rect x="35" y="232.5" width="226.3" height="174.25" fill="none" stroke="#000" stroke-width="1.3"/>
<text x="35" y="419.6" class="tl" text-anchor="middle">0</text>
<text x="72.72" y="419.6" class="tl" text-anchor="middle">2</text>
<text x="110.43" y="419.6" class="tl" text-anchor="middle">4</text>
<text x="148.15" y="419.6" class="tl" text-anchor="middle">6</text>
<text x="185.87" y="419.6" class="tl" text-anchor="middle">8</text>
<text x="223.58" y="419.6" class="tl" text-anchor="middle">10</text>
<text x="261.3" y="419.6" class="tl" text-anchor="middle">12</text>
<text x="30.6" y="410.65" class="tl" text-anchor="end">0</text>
<text x="30.6" y="354.4" class="tl" text-anchor="end">1</text>
<text x="30.6" y="298.15" class="tl" text-anchor="end">2</text>
<text x="30.6" y="241.9" class="tl" text-anchor="end">3</text>
<text x="148.15" y="435.2" class="at2" text-anchor="middle">Depth (nm)</text>
<text x="133" y="252.2" class="pl">(d)</text>
<path d="M316.6 232.5V406.75 M354.4 232.5V406.75 M392.2 232.5V406.75 M430 232.5V406.75 M467.8 232.5V406.75 M278.8 351.4H505.6 M278.8 295.15H505.6 M278.8 238.9H505.6" stroke="#cfcfcf" stroke-width="1" fill="none"/>
<clipPath id="cb1"><rect x="278.8" y="232.5" width="226.8" height="174.25"/></clipPath>
<g clip-path="url(#cb1)">
<path d="M414.88 401.34L417.48 403.94L414.88 406.54L412.28 403.94Z" fill="#f00"/>
<path d="M418.66 401.9L421.26 404.5L418.66 407.1L416.06 404.5Z" fill="#f00"/>
<path d="M422.44 402.46L425.04 405.06L422.44 407.66L419.84 405.06Z" fill="#f00"/>
<path d="M426.22 403.02L428.82 405.62L426.22 408.23L423.62 405.62Z" fill="#f00"/>
<path d="M430 403.47L432.6 406.07L430 408.68L427.4 406.07Z" fill="#f00"/>
<path d="M433.78 403.75L436.38 406.35L433.78 408.95L431.18 406.35Z" fill="#f00"/>
<path d="M437.56 404.15L440.16 406.75L437.56 409.35L434.96 406.75Z" fill="#f00"/>
<path d="M441.34 404.15L443.94 406.75L441.34 409.35L438.74 406.75Z" fill="#f00"/>
<path d="M445.12 404.15L447.72 406.75L445.12 409.35L442.52 406.75Z" fill="#f00"/>
<path d="M448.9 404.15L451.5 406.75L448.9 409.35L446.3 406.75Z" fill="#f00"/>
<path d="M452.68 404.15L455.28 406.75L452.68 409.35L450.08 406.75Z" fill="#f00"/>
<path d="M456.46 404.15L459.06 406.75L456.46 409.35L453.86 406.75Z" fill="#f00"/>
<path d="M460.24 404.15L462.84 406.75L460.24 409.35L457.64 406.75Z" fill="#f00"/>
<path d="M464.02 404.15L466.62 406.75L464.02 409.35L461.42 406.75Z" fill="#f00"/>
<path d="M467.8 404.15L470.4 406.75L467.8 409.35L465.2 406.75Z" fill="#f00"/>
<path d="M471.58 404.15L474.18 406.75L471.58 409.35L468.98 406.75Z" fill="#f00"/>
<path d="M475.36 404.15L477.96 406.75L475.36 409.35L472.76 406.75Z" fill="#f00"/>
<path d="M479.14 404.15L481.74 406.75L479.14 409.35L476.54 406.75Z" fill="#f00"/>
<path d="M482.92 404.15L485.52 406.75L482.92 409.35L480.32 406.75Z" fill="#f00"/>
<path d="M486.7 404.15L489.3 406.75L486.7 409.35L484.1 406.75Z" fill="#f00"/>
<path d="M490.48 404.15L493.08 406.75L490.48 409.35L487.88 406.75Z" fill="#f00"/>
<path d="M494.26 404.15L496.86 406.75L494.26 409.35L491.66 406.75Z" fill="#f00"/>
<path d="M498.04 404.15L500.64 406.75L498.04 409.35L495.44 406.75Z" fill="#f00"/>
<path d="M501.82 404.15L504.42 406.75L501.82 409.35L499.22 406.75Z" fill="#f00"/>
<path d="M505.6 404.15L508.2 406.75L505.6 409.35L503 406.75Z" fill="#f00"/>
<circle cx="411.1" cy="403.94" r="1.95" fill="#00f"/>
<circle cx="414.88" cy="404.5" r="1.95" fill="#00f"/>
<circle cx="418.66" cy="405.06" r="1.95" fill="#00f"/>
<circle cx="422.44" cy="405.62" r="1.95" fill="#00f"/>
<circle cx="426.22" cy="406.07" r="1.95" fill="#00f"/>
<circle cx="430" cy="406.35" r="1.95" fill="#00f"/>
<circle cx="433.78" cy="406.75" r="1.95" fill="#00f"/>
<circle cx="437.56" cy="406.75" r="1.95" fill="#00f"/>
<circle cx="441.34" cy="406.75" r="1.95" fill="#00f"/>
<circle cx="445.12" cy="406.75" r="1.95" fill="#00f"/>
<circle cx="448.9" cy="406.75" r="1.95" fill="#00f"/>
<circle cx="452.68" cy="406.75" r="1.95" fill="#00f"/>
<circle cx="456.46" cy="406.75" r="1.95" fill="#00f"/>
<circle cx="460.24" cy="406.75" r="1.95" fill="#00f"/>
<circle cx="464.02" cy="406.75" r="1.95" fill="#00f"/>
<circle cx="467.8" cy="406.75" r="1.95" fill="#00f"/>
<circle cx="471.58" cy="406.75" r="1.95" fill="#00f"/>
<circle cx="475.36" cy="406.75" r="1.95" fill="#00f"/>
<circle cx="479.14" cy="406.75" r="1.95" fill="#00f"/>
<circle cx="482.92" cy="406.75" r="1.95" fill="#00f"/>
<circle cx="486.7" cy="406.75" r="1.95" fill="#00f"/>
<circle cx="490.48" cy="406.75" r="1.95" fill="#00f"/>
<circle cx="494.26" cy="406.75" r="1.95" fill="#00f"/>
<circle cx="498.04" cy="406.75" r="1.95" fill="#00f"/>
<circle cx="501.82" cy="406.75" r="1.95" fill="#00f"/>
<circle cx="505.6" cy="406.75" r="1.95" fill="#00f"/>
<path d="M282.58 338.29L284.58 341.77L280.58 341.77Z" fill="#fff" stroke="#2f7a2f" stroke-width="0.75"/>
<path d="M286.36 346.72L288.36 350.2L284.36 350.2Z" fill="#fff" stroke="#2f7a2f" stroke-width="0.75"/>
<path d="M290.14 351.22L292.14 354.7L288.14 354.7Z" fill="#fff" stroke="#2f7a2f" stroke-width="0.75"/>
<path d="M293.92 352.35L295.92 355.83L291.92 355.83Z" fill="#fff" stroke="#2f7a2f" stroke-width="0.75"/>
<path d="M297.7 352.35L299.7 355.83L295.7 355.83Z" fill="#fff" stroke="#2f7a2f" stroke-width="0.75"/>
<path d="M301.48 357.41L303.48 360.89L299.48 360.89Z" fill="#fff" stroke="#2f7a2f" stroke-width="0.75"/>
<path d="M305.26 356.29L307.26 359.77L303.26 359.77Z" fill="#fff" stroke="#2f7a2f" stroke-width="0.75"/>
<path d="M309.04 356.85L311.04 360.33L307.04 360.33Z" fill="#fff" stroke="#2f7a2f" stroke-width="0.75"/>
<path d="M312.82 359.1L314.82 362.58L310.82 362.58Z" fill="#fff" stroke="#2f7a2f" stroke-width="0.75"/>
<path d="M316.6 361.91L318.6 365.39L314.6 365.39Z" fill="#fff" stroke="#2f7a2f" stroke-width="0.75"/>
<path d="M320.38 365.85L322.38 369.33L318.38 369.33Z" fill="#fff" stroke="#2f7a2f" stroke-width="0.75"/>
<path d="M324.16 365.29L326.16 368.77L322.16 368.77Z" fill="#fff" stroke="#2f7a2f" stroke-width="0.75"/>
<path d="M327.94 368.66L329.94 372.14L325.94 372.14Z" fill="#fff" stroke="#2f7a2f" stroke-width="0.75"/>
<path d="M331.72 374.29L333.72 377.77L329.72 377.77Z" fill="#fff" stroke="#2f7a2f" stroke-width="0.75"/>
<path d="M335.5 374.85L337.5 378.33L333.5 378.33Z" fill="#fff" stroke="#2f7a2f" stroke-width="0.75"/>
<path d="M339.28 377.1L341.28 380.58L337.28 380.58Z" fill="#fff" stroke="#2f7a2f" stroke-width="0.75"/>
<path d="M343.06 379.35L345.06 382.83L341.06 382.83Z" fill="#fff" stroke="#2f7a2f" stroke-width="0.75"/>
<path d="M346.84 381.04L348.84 384.52L344.84 384.52Z" fill="#fff" stroke="#2f7a2f" stroke-width="0.75"/>
<path d="M350.62 381.6L352.62 385.08L348.62 385.08Z" fill="#fff" stroke="#2f7a2f" stroke-width="0.75"/>
<path d="M354.4 386.1L356.4 389.58L352.4 389.58Z" fill="#fff" stroke="#2f7a2f" stroke-width="0.75"/>
<path d="M358.18 386.66L360.18 390.14L356.18 390.14Z" fill="#fff" stroke="#2f7a2f" stroke-width="0.75"/>
<path d="M361.96 388.91L363.96 392.39L359.96 392.39Z" fill="#fff" stroke="#2f7a2f" stroke-width="0.75"/>
<path d="M365.74 391.16L367.74 394.64L363.74 394.64Z" fill="#fff" stroke="#2f7a2f" stroke-width="0.75"/>
<path d="M369.52 392.85L371.52 396.33L367.52 396.33Z" fill="#fff" stroke="#2f7a2f" stroke-width="0.75"/>
<path d="M373.3 394.54L375.3 398.02L371.3 398.02Z" fill="#fff" stroke="#2f7a2f" stroke-width="0.75"/>
<path d="M377.08 396.22L379.08 399.7L375.08 399.7Z" fill="#fff" stroke="#2f7a2f" stroke-width="0.75"/>
<path d="M380.86 397.35L382.86 400.83L378.86 400.83Z" fill="#fff" stroke="#2f7a2f" stroke-width="0.75"/>
<path d="M384.64 398.47L386.64 401.95L382.64 401.95Z" fill="#fff" stroke="#2f7a2f" stroke-width="0.75"/>
<path d="M388.42 399.04L390.42 402.52L386.42 402.52Z" fill="#fff" stroke="#2f7a2f" stroke-width="0.75"/>
<path d="M392.2 400.72L394.2 404.2L390.2 404.2Z" fill="#fff" stroke="#2f7a2f" stroke-width="0.75"/>
<path d="M395.98 401.85L397.98 405.33L393.98 405.33Z" fill="#fff" stroke="#2f7a2f" stroke-width="0.75"/>
<path d="M399.76 402.41L401.76 405.89L397.76 405.89Z" fill="#fff" stroke="#2f7a2f" stroke-width="0.75"/>
<path d="M403.54 402.97L405.54 406.45L401.54 406.45Z" fill="#fff" stroke="#2f7a2f" stroke-width="0.75"/>
<path d="M407.32 403.26L409.32 406.74L405.32 406.74Z" fill="#fff" stroke="#2f7a2f" stroke-width="0.75"/>
<path d="M411.1 403.26L413.1 406.74L409.1 406.74Z" fill="#fff" stroke="#2f7a2f" stroke-width="0.75"/>
<path d="M414.88 403.26L416.88 406.74L412.88 406.74Z" fill="#fff" stroke="#2f7a2f" stroke-width="0.75"/>
<path d="M282.58 314.34L284.58 310.86L280.58 310.86Z" fill="#fff" stroke="#c43cc4" stroke-width="0.75"/>
<path d="M286.36 326.15L288.36 322.67L284.36 322.67Z" fill="#fff" stroke="#c43cc4" stroke-width="0.75"/>
<path d="M290.14 331.21L292.14 327.73L288.14 327.73Z" fill="#fff" stroke="#c43cc4" stroke-width="0.75"/>
<path d="M293.92 334.59L295.92 331.11L291.92 331.11Z" fill="#fff" stroke="#c43cc4" stroke-width="0.75"/>
<path d="M297.7 335.15L299.7 331.67L295.7 331.67Z" fill="#fff" stroke="#c43cc4" stroke-width="0.75"/>
<path d="M301.48 341.34L303.48 337.86L299.48 337.86Z" fill="#fff" stroke="#c43cc4" stroke-width="0.75"/>
<path d="M305.26 340.21L307.26 336.73L303.26 336.73Z" fill="#fff" stroke="#c43cc4" stroke-width="0.75"/>
<path d="M309.04 340.21L311.04 336.73L307.04 336.73Z" fill="#fff" stroke="#c43cc4" stroke-width="0.75"/>
<path d="M312.82 342.46L314.82 338.98L310.82 338.98Z" fill="#fff" stroke="#c43cc4" stroke-width="0.75"/>
<path d="M316.6 348.09L318.6 344.61L314.6 344.61Z" fill="#fff" stroke="#c43cc4" stroke-width="0.75"/>
<path d="M320.38 353.71L322.38 350.23L318.38 350.23Z" fill="#fff" stroke="#c43cc4" stroke-width="0.75"/>
<path d="M324.16 352.59L326.16 349.11L322.16 349.11Z" fill="#fff" stroke="#c43cc4" stroke-width="0.75"/>
<path d="M327.94 357.65L329.94 354.17L325.94 354.17Z" fill="#fff" stroke="#c43cc4" stroke-width="0.75"/>
<path d="M331.72 364.96L333.72 361.48L329.72 361.48Z" fill="#fff" stroke="#c43cc4" stroke-width="0.75"/>
<path d="M335.5 365.53L337.5 362.05L333.5 362.05Z" fill="#fff" stroke="#c43cc4" stroke-width="0.75"/>
<path d="M339.28 369.46L341.28 365.98L337.28 365.98Z" fill="#fff" stroke="#c43cc4" stroke-width="0.75"/>
<path d="M343.06 371.71L345.06 368.23L341.06 368.23Z" fill="#fff" stroke="#c43cc4" stroke-width="0.75"/>
<path d="M346.84 373.96L348.84 370.48L344.84 370.48Z" fill="#fff" stroke="#c43cc4" stroke-width="0.75"/>
<path d="M350.62 375.65L352.62 372.17L348.62 372.17Z" fill="#fff" stroke="#c43cc4" stroke-width="0.75"/>
<path d="M354.4 381.28L356.4 377.8L352.4 377.8Z" fill="#fff" stroke="#c43cc4" stroke-width="0.75"/>
<path d="M358.18 383.53L360.18 380.05L356.18 380.05Z" fill="#fff" stroke="#c43cc4" stroke-width="0.75"/>
<path d="M361.96 386.34L363.96 382.86L359.96 382.86Z" fill="#fff" stroke="#c43cc4" stroke-width="0.75"/>
<path d="M365.74 389.15L367.74 385.67L363.74 385.67Z" fill="#fff" stroke="#c43cc4" stroke-width="0.75"/>
<path d="M369.52 390.84L371.52 387.36L367.52 387.36Z" fill="#fff" stroke="#c43cc4" stroke-width="0.75"/>
<path d="M373.3 394.21L375.3 390.73L371.3 390.73Z" fill="#fff" stroke="#c43cc4" stroke-width="0.75"/>
<path d="M377.08 395.9L379.08 392.42L375.08 392.42Z" fill="#fff" stroke="#c43cc4" stroke-width="0.75"/>
<path d="M380.86 397.59L382.86 394.11L378.86 394.11Z" fill="#fff" stroke="#c43cc4" stroke-width="0.75"/>
<path d="M384.64 399.28L386.64 395.8L382.64 395.8Z" fill="#fff" stroke="#c43cc4" stroke-width="0.75"/>
<path d="M388.42 400.4L390.42 396.92L386.42 396.92Z" fill="#fff" stroke="#c43cc4" stroke-width="0.75"/>
<path d="M392.2 402.09L394.2 398.61L390.2 398.61Z" fill="#fff" stroke="#c43cc4" stroke-width="0.75"/>
<path d="M395.98 403.78L397.98 400.3L393.98 400.3Z" fill="#fff" stroke="#c43cc4" stroke-width="0.75"/>
<path d="M399.76 404.9L401.76 401.42L397.76 401.42Z" fill="#fff" stroke="#c43cc4" stroke-width="0.75"/>
<path d="M403.54 406.03L405.54 402.55L401.54 402.55Z" fill="#fff" stroke="#c43cc4" stroke-width="0.75"/>
<path d="M407.32 406.59L409.32 403.11L405.32 403.11Z" fill="#fff" stroke="#c43cc4" stroke-width="0.75"/>
<path d="M411.1 407.15L413.1 403.67L409.1 403.67Z" fill="#fff" stroke="#c43cc4" stroke-width="0.75"/>
<path d="M414.88 407.43L416.88 403.95L412.88 403.95Z" fill="#fff" stroke="#c43cc4" stroke-width="0.75"/>
<rect x="409.6" y="403.8" width="96" height="3" fill="#b4aab8"/>
<rect x="410" y="403.6" width="2.2" height="3.2" fill="#3a2440"/>
<rect x="413.78" y="403.6" width="2.2" height="3.2" fill="#3a2440"/>
<rect x="417.56" y="403.6" width="2.2" height="3.2" fill="#3a2440"/>
<rect x="421.34" y="403.6" width="2.2" height="3.2" fill="#3a2440"/>
<rect x="425.12" y="403.6" width="2.2" height="3.2" fill="#3a2440"/>
<rect x="428.9" y="403.6" width="2.2" height="3.2" fill="#3a2440"/>
<rect x="432.68" y="403.6" width="2.2" height="3.2" fill="#3a2440"/>
<rect x="436.46" y="403.6" width="2.2" height="3.2" fill="#3a2440"/>
<rect x="440.24" y="403.6" width="2.2" height="3.2" fill="#3a2440"/>
<rect x="444.02" y="403.6" width="2.2" height="3.2" fill="#3a2440"/>
<rect x="447.8" y="403.6" width="2.2" height="3.2" fill="#3a2440"/>
<rect x="451.58" y="403.6" width="2.2" height="3.2" fill="#3a2440"/>
<rect x="455.36" y="403.6" width="2.2" height="3.2" fill="#3a2440"/>
<rect x="459.14" y="403.6" width="2.2" height="3.2" fill="#3a2440"/>
<rect x="462.92" y="403.6" width="2.2" height="3.2" fill="#3a2440"/>
<rect x="466.7" y="403.6" width="2.2" height="3.2" fill="#3a2440"/>
<rect x="470.48" y="403.6" width="2.2" height="3.2" fill="#3a2440"/>
<rect x="474.26" y="403.6" width="2.2" height="3.2" fill="#3a2440"/>
<rect x="478.04" y="403.6" width="2.2" height="3.2" fill="#3a2440"/>
<rect x="481.82" y="403.6" width="2.2" height="3.2" fill="#3a2440"/>
<rect x="485.6" y="403.6" width="2.2" height="3.2" fill="#3a2440"/>
<rect x="489.38" y="403.6" width="2.2" height="3.2" fill="#3a2440"/>
<rect x="493.16" y="403.6" width="2.2" height="3.2" fill="#3a2440"/>
<rect x="496.94" y="403.6" width="2.2" height="3.2" fill="#3a2440"/>
<rect x="500.72" y="403.6" width="2.2" height="3.2" fill="#3a2440"/>
<rect x="504.5" y="403.6" width="2.2" height="3.2" fill="#3a2440"/>
<rect x="280.73" y="253.03" width="3.7" height="3.7" fill="#000"/>
<rect x="284.51" y="272.71" width="3.7" height="3.7" fill="#000"/>
<rect x="288.29" y="281.71" width="3.7" height="3.7" fill="#000"/>
<rect x="292.07" y="286.21" width="3.7" height="3.7" fill="#000"/>
<rect x="295.85" y="286.77" width="3.7" height="3.7" fill="#000"/>
<rect x="299.63" y="297.46" width="3.7" height="3.7" fill="#000"/>
<rect x="303.41" y="294.65" width="3.7" height="3.7" fill="#000"/>
<rect x="307.19" y="294.09" width="3.7" height="3.7" fill="#000"/>
<rect x="310.97" y="298.59" width="3.7" height="3.7" fill="#000"/>
<rect x="314.75" y="308.71" width="3.7" height="3.7" fill="#000"/>
<rect x="318.53" y="316.59" width="3.7" height="3.7" fill="#000"/>
<rect x="322.31" y="314.9" width="3.7" height="3.7" fill="#000"/>
<rect x="326.09" y="322.77" width="3.7" height="3.7" fill="#000"/>
<rect x="329.87" y="333.46" width="3.7" height="3.7" fill="#000"/>
<rect x="333.65" y="334.59" width="3.7" height="3.7" fill="#000"/>
<rect x="337.43" y="341.9" width="3.7" height="3.7" fill="#000"/>
<rect x="341.21" y="344.71" width="3.7" height="3.7" fill="#000"/>
<rect x="344.99" y="348.65" width="3.7" height="3.7" fill="#000"/>
<rect x="348.77" y="350.34" width="3.7" height="3.7" fill="#000"/>
<rect x="352.55" y="361.02" width="3.7" height="3.7" fill="#000"/>
<rect x="356.33" y="362.15" width="3.7" height="3.7" fill="#000"/>
<rect x="360.11" y="367.21" width="3.7" height="3.7" fill="#000"/>
<rect x="363.89" y="372.27" width="3.7" height="3.7" fill="#000"/>
<rect x="367.67" y="376.77" width="3.7" height="3.7" fill="#000"/>
<rect x="371.45" y="380.71" width="3.7" height="3.7" fill="#000"/>
<rect x="375.23" y="383.52" width="3.7" height="3.7" fill="#000"/>
<rect x="379.01" y="386.34" width="3.7" height="3.7" fill="#000"/>
<rect x="382.79" y="388.59" width="3.7" height="3.7" fill="#000"/>
<rect x="386.57" y="390.84" width="3.7" height="3.7" fill="#000"/>
<rect x="390.35" y="393.09" width="3.7" height="3.7" fill="#000"/>
<rect x="394.13" y="395.9" width="3.7" height="3.7" fill="#000"/>
<rect x="397.91" y="398.71" width="3.7" height="3.7" fill="#000"/>
<rect x="401.69" y="399.84" width="3.7" height="3.7" fill="#000"/>
<rect x="405.47" y="400.96" width="3.7" height="3.7" fill="#000"/>
<circle cx="282.58" cy="288.62" r="1.95" fill="#00f"/>
<circle cx="286.36" cy="303.81" r="1.95" fill="#00f"/>
<circle cx="290.14" cy="311.12" r="1.95" fill="#00f"/>
<circle cx="293.92" cy="313.94" r="1.95" fill="#00f"/>
<circle cx="297.7" cy="315.06" r="1.95" fill="#00f"/>
<circle cx="301.48" cy="324.06" r="1.95" fill="#00f"/>
<circle cx="305.26" cy="321.25" r="1.95" fill="#00f"/>
<circle cx="309.04" cy="320.69" r="1.95" fill="#00f"/>
<circle cx="312.82" cy="324.62" r="1.95" fill="#00f"/>
<circle cx="316.6" cy="331.94" r="1.95" fill="#00f"/>
<circle cx="320.38" cy="338.12" r="1.95" fill="#00f"/>
<circle cx="324.16" cy="337" r="1.95" fill="#00f"/>
<circle cx="327.94" cy="343.19" r="1.95" fill="#00f"/>
<circle cx="331.72" cy="351.06" r="1.95" fill="#00f"/>
<circle cx="335.5" cy="352.75" r="1.95" fill="#00f"/>
<circle cx="339.28" cy="357.81" r="1.95" fill="#00f"/>
<circle cx="343.06" cy="360.06" r="1.95" fill="#00f"/>
<circle cx="346.84" cy="362.88" r="1.95" fill="#00f"/>
<circle cx="350.62" cy="364" r="1.95" fill="#00f"/>
<circle cx="354.4" cy="373" r="1.95" fill="#00f"/>
<circle cx="358.18" cy="373.56" r="1.95" fill="#00f"/>
<circle cx="361.96" cy="378.62" r="1.95" fill="#00f"/>
<circle cx="365.74" cy="382" r="1.95" fill="#00f"/>
<circle cx="369.52" cy="384.81" r="1.95" fill="#00f"/>
<circle cx="373.3" cy="388.75" r="1.95" fill="#00f"/>
<circle cx="377.08" cy="390.44" r="1.95" fill="#00f"/>
<circle cx="380.86" cy="392.12" r="1.95" fill="#00f"/>
<circle cx="384.64" cy="393.81" r="1.95" fill="#00f"/>
<circle cx="388.42" cy="394.94" r="1.95" fill="#00f"/>
<circle cx="392.2" cy="396.62" r="1.95" fill="#00f"/>
<circle cx="395.98" cy="398.88" r="1.95" fill="#00f"/>
<circle cx="399.76" cy="401.12" r="1.95" fill="#00f"/>
<circle cx="403.54" cy="402.25" r="1.95" fill="#00f"/>
<circle cx="407.32" cy="403.38" r="1.95" fill="#00f"/>
<path d="M282.58 238.78L285.18 241.38L282.58 243.97L279.98 241.38Z" fill="#f00"/>
<path d="M286.36 260.15L288.96 262.75L286.36 265.35L283.76 262.75Z" fill="#f00"/>
<path d="M290.14 269.15L292.74 271.75L290.14 274.35L287.54 271.75Z" fill="#f00"/>
<path d="M293.92 274.21L296.52 276.81L293.92 279.41L291.32 276.81Z" fill="#f00"/>
<path d="M297.7 275.34L300.3 277.94L297.7 280.54L295.1 277.94Z" fill="#f00"/>
<path d="M301.48 287.71L304.08 290.31L301.48 292.91L298.88 290.31Z" fill="#f00"/>
<path d="M305.26 283.77L307.86 286.38L305.26 288.98L302.66 286.38Z" fill="#f00"/>
<path d="M309.04 283.77L311.64 286.38L309.04 288.98L306.44 286.38Z" fill="#f00"/>
<path d="M312.82 288.27L315.42 290.88L312.82 293.48L310.22 290.88Z" fill="#f00"/>
<path d="M316.6 298.96L319.2 301.56L316.6 304.16L314 301.56Z" fill="#f00"/>
<path d="M320.38 307.4L322.98 310L320.38 312.6L317.78 310Z" fill="#f00"/>
<path d="M324.16 305.71L326.76 308.31L324.16 310.91L321.56 308.31Z" fill="#f00"/>
<path d="M327.94 314.71L330.54 317.31L327.94 319.91L325.34 317.31Z" fill="#f00"/>
<path d="M331.72 326.52L334.32 329.12L331.72 331.73L329.12 329.12Z" fill="#f00"/>
<path d="M335.5 328.21L338.1 330.81L335.5 333.41L332.9 330.81Z" fill="#f00"/>
<path d="M339.28 334.4L341.88 337L339.28 339.6L336.68 337Z" fill="#f00"/>
<path d="M343.06 338.9L345.66 341.5L343.06 344.1L340.46 341.5Z" fill="#f00"/>
<path d="M346.84 342.84L349.44 345.44L346.84 348.04L344.24 345.44Z" fill="#f00"/>
<path d="M350.62 344.52L353.22 347.12L350.62 349.73L348.02 347.12Z" fill="#f00"/>
<path d="M354.4 356.9L357 359.5L354.4 362.1L351.8 359.5Z" fill="#f00"/>
<path d="M358.18 357.46L360.78 360.06L358.18 362.66L355.58 360.06Z" fill="#f00"/>
<path d="M361.96 363.65L364.56 366.25L361.96 368.85L359.36 366.25Z" fill="#f00"/>
<path d="M365.74 368.71L368.34 371.31L365.74 373.91L363.14 371.31Z" fill="#f00"/>
<path d="M369.52 373.21L372.12 375.81L369.52 378.41L366.92 375.81Z" fill="#f00"/>
<path d="M373.3 378.84L375.9 381.44L373.3 384.04L370.7 381.44Z" fill="#f00"/>
<path d="M377.08 381.65L379.68 384.25L377.08 386.85L374.48 384.25Z" fill="#f00"/>
<path d="M380.86 384.46L383.46 387.06L380.86 389.66L378.26 387.06Z" fill="#f00"/>
<path d="M384.64 386.15L387.24 388.75L384.64 391.35L382.04 388.75Z" fill="#f00"/>
<path d="M388.42 388.4L391.02 391L388.42 393.6L385.82 391Z" fill="#f00"/>
<path d="M392.2 390.65L394.8 393.25L392.2 395.85L389.6 393.25Z" fill="#f00"/>
<path d="M395.98 394.02L398.58 396.62L395.98 399.23L393.38 396.62Z" fill="#f00"/>
<path d="M399.76 397.4L402.36 400L399.76 402.6L397.16 400Z" fill="#f00"/>
<path d="M403.54 398.52L406.14 401.12L403.54 403.73L400.94 401.12Z" fill="#f00"/>
<path d="M407.32 399.65L409.92 402.25L407.32 404.85L404.72 402.25Z" fill="#f00"/>
<path d="M411.1 400.77L413.7 403.38L411.1 405.98L408.5 403.38Z" fill="#f00"/>
</g>
<path d="M278.8 406.75v-3 M316.6 406.75v-3 M354.4 406.75v-3 M392.2 406.75v-3 M430 406.75v-3 M467.8 406.75v-3 M505.6 406.75v-3 M278.8 406.75h3 M278.8 379.52h2 M278.8 351.4h3 M278.8 323.27h2 M278.8 295.15h3 M278.8 267.02h2 M278.8 238.9h3" stroke="#000" stroke-width="1" fill="none"/>
<rect x="278.8" y="232.5" width="226.8" height="174.25" fill="none" stroke="#000" stroke-width="1.3"/>
<text x="278.8" y="419.6" class="tl" text-anchor="middle">0</text>
<text x="316.6" y="419.6" class="tl" text-anchor="middle">2</text>
<text x="354.4" y="419.6" class="tl" text-anchor="middle">4</text>
<text x="392.2" y="419.6" class="tl" text-anchor="middle">6</text>
<text x="430" y="419.6" class="tl" text-anchor="middle">8</text>
<text x="467.8" y="419.6" class="tl" text-anchor="middle">10</text>
<text x="505.6" y="419.6" class="tl" text-anchor="middle">12</text>
<text x="392.2" y="435.2" class="at2" text-anchor="middle">Depth (nm)</text>
<text x="377.3" y="252.2" class="pl">(e)</text>
<path d="M560.8 232.5V406.75 M598.6 232.5V406.75 M636.4 232.5V406.75 M674.2 232.5V406.75 M712 232.5V406.75 M523 350.5H749.8 M523 294.25H749.8 M523 238H749.8" stroke="#cfcfcf" stroke-width="1" fill="none"/>
<clipPath id="cb2"><rect x="523" y="232.5" width="226.8" height="174.25"/></clipPath>
<g clip-path="url(#cb2)">
<path d="M712 401.34L714.6 403.94L712 406.54L709.4 403.94Z" fill="#f00"/>
<path d="M715.78 401.9L718.38 404.5L715.78 407.1L713.18 404.5Z" fill="#f00"/>
<path d="M719.56 402.46L722.16 405.06L719.56 407.66L716.96 405.06Z" fill="#f00"/>
<path d="M723.34 403.02L725.94 405.62L723.34 408.23L720.74 405.62Z" fill="#f00"/>
<path d="M727.12 403.47L729.72 406.07L727.12 408.68L724.52 406.07Z" fill="#f00"/>
<path d="M730.9 403.75L733.5 406.35L730.9 408.95L728.3 406.35Z" fill="#f00"/>
<path d="M734.68 404.15L737.28 406.75L734.68 409.35L732.08 406.75Z" fill="#f00"/>
<path d="M738.46 404.15L741.06 406.75L738.46 409.35L735.86 406.75Z" fill="#f00"/>
<path d="M742.24 404.15L744.84 406.75L742.24 409.35L739.64 406.75Z" fill="#f00"/>
<path d="M746.02 404.15L748.62 406.75L746.02 409.35L743.42 406.75Z" fill="#f00"/>
<path d="M749.8 404.15L752.4 406.75L749.8 409.35L747.2 406.75Z" fill="#f00"/>
<circle cx="696.88" cy="403.94" r="1.95" fill="#00f"/>
<circle cx="700.66" cy="403.94" r="1.95" fill="#00f"/>
<circle cx="704.44" cy="404.5" r="1.95" fill="#00f"/>
<circle cx="708.22" cy="405.06" r="1.95" fill="#00f"/>
<circle cx="712" cy="405.62" r="1.95" fill="#00f"/>
<circle cx="715.78" cy="406.07" r="1.95" fill="#00f"/>
<circle cx="719.56" cy="406.35" r="1.95" fill="#00f"/>
<circle cx="723.34" cy="406.75" r="1.95" fill="#00f"/>
<circle cx="727.12" cy="406.75" r="1.95" fill="#00f"/>
<circle cx="730.9" cy="406.75" r="1.95" fill="#00f"/>
<circle cx="734.68" cy="406.75" r="1.95" fill="#00f"/>
<circle cx="738.46" cy="406.75" r="1.95" fill="#00f"/>
<circle cx="742.24" cy="406.75" r="1.95" fill="#00f"/>
<circle cx="746.02" cy="406.75" r="1.95" fill="#00f"/>
<circle cx="749.8" cy="406.75" r="1.95" fill="#00f"/>
<path d="M526.78 335.47L528.78 338.95L524.78 338.95Z" fill="#fff" stroke="#2f7a2f" stroke-width="0.75"/>
<path d="M530.56 335.47L532.56 338.95L528.56 338.95Z" fill="#fff" stroke="#2f7a2f" stroke-width="0.75"/>
<path d="M534.34 339.97L536.34 343.45L532.34 343.45Z" fill="#fff" stroke="#2f7a2f" stroke-width="0.75"/>
<path d="M538.12 341.66L540.12 345.14L536.12 345.14Z" fill="#fff" stroke="#2f7a2f" stroke-width="0.75"/>
<path d="M541.9 343.91L543.9 347.39L539.9 347.39Z" fill="#fff" stroke="#2f7a2f" stroke-width="0.75"/>
<path d="M545.68 343.35L547.68 346.83L543.68 346.83Z" fill="#fff" stroke="#2f7a2f" stroke-width="0.75"/>
<path d="M549.46 344.47L551.46 347.95L547.46 347.95Z" fill="#fff" stroke="#2f7a2f" stroke-width="0.75"/>
<path d="M553.24 346.72L555.24 350.2L551.24 350.2Z" fill="#fff" stroke="#2f7a2f" stroke-width="0.75"/>
<path d="M557.02 347.29L559.02 350.77L555.02 350.77Z" fill="#fff" stroke="#2f7a2f" stroke-width="0.75"/>
<path d="M560.8 349.54L562.8 353.02L558.8 353.02Z" fill="#fff" stroke="#2f7a2f" stroke-width="0.75"/>
<path d="M564.58 354.04L566.58 357.52L562.58 357.52Z" fill="#fff" stroke="#2f7a2f" stroke-width="0.75"/>
<path d="M568.36 356.29L570.36 359.77L566.36 359.77Z" fill="#fff" stroke="#2f7a2f" stroke-width="0.75"/>
<path d="M572.14 354.6L574.14 358.08L570.14 358.08Z" fill="#fff" stroke="#2f7a2f" stroke-width="0.75"/>
<path d="M575.92 356.29L577.92 359.77L573.92 359.77Z" fill="#fff" stroke="#2f7a2f" stroke-width="0.75"/>
<path d="M579.7 359.66L581.7 363.14L577.7 363.14Z" fill="#fff" stroke="#2f7a2f" stroke-width="0.75"/>
<path d="M583.48 363.04L585.48 366.52L581.48 366.52Z" fill="#fff" stroke="#2f7a2f" stroke-width="0.75"/>
<path d="M587.26 364.72L589.26 368.2L585.26 368.2Z" fill="#fff" stroke="#2f7a2f" stroke-width="0.75"/>
<path d="M591.04 364.72L593.04 368.2L589.04 368.2Z" fill="#fff" stroke="#2f7a2f" stroke-width="0.75"/>
<path d="M594.82 364.72L596.82 368.2L592.82 368.2Z" fill="#fff" stroke="#2f7a2f" stroke-width="0.75"/>
<path d="M598.6 368.66L600.6 372.14L596.6 372.14Z" fill="#fff" stroke="#2f7a2f" stroke-width="0.75"/>
<path d="M602.38 373.72L604.38 377.2L600.38 377.2Z" fill="#fff" stroke="#2f7a2f" stroke-width="0.75"/>
<path d="M606.16 375.41L608.16 378.89L604.16 378.89Z" fill="#fff" stroke="#2f7a2f" stroke-width="0.75"/>
<path d="M609.94 375.97L611.94 379.45L607.94 379.45Z" fill="#fff" stroke="#2f7a2f" stroke-width="0.75"/>
<path d="M613.72 374.85L615.72 378.33L611.72 378.33Z" fill="#fff" stroke="#2f7a2f" stroke-width="0.75"/>
<path d="M617.5 379.35L619.5 382.83L615.5 382.83Z" fill="#fff" stroke="#2f7a2f" stroke-width="0.75"/>
<path d="M621.28 383.85L623.28 387.33L619.28 387.33Z" fill="#fff" stroke="#2f7a2f" stroke-width="0.75"/>
<path d="M625.06 385.54L627.06 389.02L623.06 389.02Z" fill="#fff" stroke="#2f7a2f" stroke-width="0.75"/>
<path d="M628.84 384.41L630.84 387.89L626.84 387.89Z" fill="#fff" stroke="#2f7a2f" stroke-width="0.75"/>
<path d="M632.62 388.35L634.62 391.83L630.62 391.83Z" fill="#fff" stroke="#2f7a2f" stroke-width="0.75"/>
<path d="M636.4 387.79L638.4 391.27L634.4 391.27Z" fill="#fff" stroke="#2f7a2f" stroke-width="0.75"/>
<path d="M640.18 390.6L642.18 394.08L638.18 394.08Z" fill="#fff" stroke="#2f7a2f" stroke-width="0.75"/>
<path d="M643.96 392.29L645.96 395.77L641.96 395.77Z" fill="#fff" stroke="#2f7a2f" stroke-width="0.75"/>
<path d="M647.74 393.41L649.74 396.89L645.74 396.89Z" fill="#fff" stroke="#2f7a2f" stroke-width="0.75"/>
<path d="M651.52 395.1L653.52 398.58L649.52 398.58Z" fill="#fff" stroke="#2f7a2f" stroke-width="0.75"/>
<path d="M655.3 396.79L657.3 400.27L653.3 400.27Z" fill="#fff" stroke="#2f7a2f" stroke-width="0.75"/>
<path d="M659.08 397.35L661.08 400.83L657.08 400.83Z" fill="#fff" stroke="#2f7a2f" stroke-width="0.75"/>
<path d="M662.86 399.04L664.86 402.52L660.86 402.52Z" fill="#fff" stroke="#2f7a2f" stroke-width="0.75"/>
<path d="M666.64 400.16L668.64 403.64L664.64 403.64Z" fill="#fff" stroke="#2f7a2f" stroke-width="0.75"/>
<path d="M670.42 400.72L672.42 404.2L668.42 404.2Z" fill="#fff" stroke="#2f7a2f" stroke-width="0.75"/>
<path d="M674.2 401.29L676.2 404.77L672.2 404.77Z" fill="#fff" stroke="#2f7a2f" stroke-width="0.75"/>
<path d="M677.98 401.85L679.98 405.33L675.98 405.33Z" fill="#fff" stroke="#2f7a2f" stroke-width="0.75"/>
<path d="M681.76 402.41L683.76 405.89L679.76 405.89Z" fill="#fff" stroke="#2f7a2f" stroke-width="0.75"/>
<path d="M685.54 402.97L687.54 406.45L683.54 406.45Z" fill="#fff" stroke="#2f7a2f" stroke-width="0.75"/>
<path d="M689.32 403.26L691.32 406.74L687.32 406.74Z" fill="#fff" stroke="#2f7a2f" stroke-width="0.75"/>
<path d="M693.1 403.26L695.1 406.74L691.1 406.74Z" fill="#fff" stroke="#2f7a2f" stroke-width="0.75"/>
<path d="M696.88 403.26L698.88 406.74L694.88 406.74Z" fill="#fff" stroke="#2f7a2f" stroke-width="0.75"/>
<path d="M700.66 403.26L702.66 406.74L698.66 406.74Z" fill="#fff" stroke="#2f7a2f" stroke-width="0.75"/>
<path d="M704.44 403.26L706.44 406.74L702.44 406.74Z" fill="#fff" stroke="#2f7a2f" stroke-width="0.75"/>
<path d="M708.22 403.26L710.22 406.74L706.22 406.74Z" fill="#fff" stroke="#2f7a2f" stroke-width="0.75"/>
<path d="M712 403.26L714 406.74L710 406.74Z" fill="#fff" stroke="#2f7a2f" stroke-width="0.75"/>
<path d="M526.78 310.96L528.78 307.48L524.78 307.48Z" fill="#fff" stroke="#c43cc4" stroke-width="0.75"/>
<path d="M530.56 310.96L532.56 307.48L528.56 307.48Z" fill="#fff" stroke="#c43cc4" stroke-width="0.75"/>
<path d="M534.34 315.46L536.34 311.98L532.34 311.98Z" fill="#fff" stroke="#c43cc4" stroke-width="0.75"/>
<path d="M538.12 319.4L540.12 315.92L536.12 315.92Z" fill="#fff" stroke="#c43cc4" stroke-width="0.75"/>
<path d="M541.9 322.78L543.9 319.3L539.9 319.3Z" fill="#fff" stroke="#c43cc4" stroke-width="0.75"/>
<path d="M545.68 320.53L547.68 317.05L543.68 317.05Z" fill="#fff" stroke="#c43cc4" stroke-width="0.75"/>
<path d="M549.46 323.34L551.46 319.86L547.46 319.86Z" fill="#fff" stroke="#c43cc4" stroke-width="0.75"/>
<path d="M553.24 326.71L555.24 323.23L551.24 323.23Z" fill="#fff" stroke="#c43cc4" stroke-width="0.75"/>
<path d="M557.02 327.28L559.02 323.8L555.02 323.8Z" fill="#fff" stroke="#c43cc4" stroke-width="0.75"/>
<path d="M560.8 330.65L562.8 327.17L558.8 327.17Z" fill="#fff" stroke="#c43cc4" stroke-width="0.75"/>
<path d="M564.58 337.4L566.58 333.92L562.58 333.92Z" fill="#fff" stroke="#c43cc4" stroke-width="0.75"/>
<path d="M568.36 340.78L570.36 337.3L566.36 337.3Z" fill="#fff" stroke="#c43cc4" stroke-width="0.75"/>
<path d="M572.14 337.96L574.14 334.48L570.14 334.48Z" fill="#fff" stroke="#c43cc4" stroke-width="0.75"/>
<path d="M575.92 339.65L577.92 336.17L573.92 336.17Z" fill="#fff" stroke="#c43cc4" stroke-width="0.75"/>
<path d="M579.7 344.71L581.7 341.23L577.7 341.23Z" fill="#fff" stroke="#c43cc4" stroke-width="0.75"/>
<path d="M583.48 349.78L585.48 346.3L581.48 346.3Z" fill="#fff" stroke="#c43cc4" stroke-width="0.75"/>
<path d="M587.26 352.59L589.26 349.11L585.26 349.11Z" fill="#fff" stroke="#c43cc4" stroke-width="0.75"/>
<path d="M591.04 352.59L593.04 349.11L589.04 349.11Z" fill="#fff" stroke="#c43cc4" stroke-width="0.75"/>
<path d="M594.82 352.59L596.82 349.11L592.82 349.11Z" fill="#fff" stroke="#c43cc4" stroke-width="0.75"/>
<path d="M598.6 357.65L600.6 354.17L596.6 354.17Z" fill="#fff" stroke="#c43cc4" stroke-width="0.75"/>
<path d="M602.38 363.84L604.38 360.36L600.38 360.36Z" fill="#fff" stroke="#c43cc4" stroke-width="0.75"/>
<path d="M606.16 368.9L608.16 365.42L604.16 365.42Z" fill="#fff" stroke="#c43cc4" stroke-width="0.75"/>
<path d="M609.94 368.9L611.94 365.42L607.94 365.42Z" fill="#fff" stroke="#c43cc4" stroke-width="0.75"/>
<path d="M613.72 367.78L615.72 364.3L611.72 364.3Z" fill="#fff" stroke="#c43cc4" stroke-width="0.75"/>
<path d="M617.5 373.96L619.5 370.48L615.5 370.48Z" fill="#fff" stroke="#c43cc4" stroke-width="0.75"/>
<path d="M621.28 379.59L623.28 376.11L619.28 376.11Z" fill="#fff" stroke="#c43cc4" stroke-width="0.75"/>
<path d="M625.06 382.4L627.06 378.92L623.06 378.92Z" fill="#fff" stroke="#c43cc4" stroke-width="0.75"/>
<path d="M628.84 380.71L630.84 377.23L626.84 377.23Z" fill="#fff" stroke="#c43cc4" stroke-width="0.75"/>
<path d="M632.62 386.34L634.62 382.86L630.62 382.86Z" fill="#fff" stroke="#c43cc4" stroke-width="0.75"/>
<path d="M636.4 385.21L638.4 381.73L634.4 381.73Z" fill="#fff" stroke="#c43cc4" stroke-width="0.75"/>
<path d="M640.18 389.15L642.18 385.67L638.18 385.67Z" fill="#fff" stroke="#c43cc4" stroke-width="0.75"/>
<path d="M643.96 391.96L645.96 388.48L641.96 388.48Z" fill="#fff" stroke="#c43cc4" stroke-width="0.75"/>
<path d="M647.74 393.65L649.74 390.17L645.74 390.17Z" fill="#fff" stroke="#c43cc4" stroke-width="0.75"/>
<path d="M651.52 395.9L653.52 392.42L649.52 392.42Z" fill="#fff" stroke="#c43cc4" stroke-width="0.75"/>
<path d="M655.3 397.03L657.3 393.55L653.3 393.55Z" fill="#fff" stroke="#c43cc4" stroke-width="0.75"/>
<path d="M659.08 398.71L661.08 395.23L657.08 395.23Z" fill="#fff" stroke="#c43cc4" stroke-width="0.75"/>
<path d="M662.86 399.84L664.86 396.36L660.86 396.36Z" fill="#fff" stroke="#c43cc4" stroke-width="0.75"/>
<path d="M666.64 401.53L668.64 398.05L664.64 398.05Z" fill="#fff" stroke="#c43cc4" stroke-width="0.75"/>
<path d="M670.42 402.09L672.42 398.61L668.42 398.61Z" fill="#fff" stroke="#c43cc4" stroke-width="0.75"/>
<path d="M674.2 403.21L676.2 399.73L672.2 399.73Z" fill="#fff" stroke="#c43cc4" stroke-width="0.75"/>
<path d="M677.98 403.78L679.98 400.3L675.98 400.3Z" fill="#fff" stroke="#c43cc4" stroke-width="0.75"/>
<path d="M681.76 404.34L683.76 400.86L679.76 400.86Z" fill="#fff" stroke="#c43cc4" stroke-width="0.75"/>
<path d="M685.54 404.9L687.54 401.42L683.54 401.42Z" fill="#fff" stroke="#c43cc4" stroke-width="0.75"/>
<path d="M689.32 405.46L691.32 401.98L687.32 401.98Z" fill="#fff" stroke="#c43cc4" stroke-width="0.75"/>
<path d="M693.1 406.03L695.1 402.55L691.1 402.55Z" fill="#fff" stroke="#c43cc4" stroke-width="0.75"/>
<path d="M696.88 406.59L698.88 403.11L694.88 403.11Z" fill="#fff" stroke="#c43cc4" stroke-width="0.75"/>
<path d="M700.66 407.15L702.66 403.67L698.66 403.67Z" fill="#fff" stroke="#c43cc4" stroke-width="0.75"/>
<path d="M704.44 407.43L706.44 403.95L702.44 403.95Z" fill="#fff" stroke="#c43cc4" stroke-width="0.75"/>
<path d="M708.22 407.43L710.22 403.95L706.22 403.95Z" fill="#fff" stroke="#c43cc4" stroke-width="0.75"/>
<path d="M712 407.43L714 403.95L710 403.95Z" fill="#fff" stroke="#c43cc4" stroke-width="0.75"/>
<rect x="706.72" y="403.8" width="43.08" height="3" fill="#b4aab8"/>
<rect x="707.12" y="403.6" width="2.2" height="3.2" fill="#3a2440"/>
<rect x="710.9" y="403.6" width="2.2" height="3.2" fill="#3a2440"/>
<rect x="714.68" y="403.6" width="2.2" height="3.2" fill="#3a2440"/>
<rect x="718.46" y="403.6" width="2.2" height="3.2" fill="#3a2440"/>
<rect x="722.24" y="403.6" width="2.2" height="3.2" fill="#3a2440"/>
<rect x="726.02" y="403.6" width="2.2" height="3.2" fill="#3a2440"/>
<rect x="729.8" y="403.6" width="2.2" height="3.2" fill="#3a2440"/>
<rect x="733.58" y="403.6" width="2.2" height="3.2" fill="#3a2440"/>
<rect x="737.36" y="403.6" width="2.2" height="3.2" fill="#3a2440"/>
<rect x="741.14" y="403.6" width="2.2" height="3.2" fill="#3a2440"/>
<rect x="744.92" y="403.6" width="2.2" height="3.2" fill="#3a2440"/>
<rect x="748.7" y="403.6" width="2.2" height="3.2" fill="#3a2440"/>
<rect x="524.93" y="249.09" width="3.7" height="3.7" fill="#000"/>
<rect x="528.71" y="249.09" width="3.7" height="3.7" fill="#000"/>
<rect x="532.49" y="255.84" width="3.7" height="3.7" fill="#000"/>
<rect x="536.27" y="262.59" width="3.7" height="3.7" fill="#000"/>
<rect x="540.05" y="267.65" width="3.7" height="3.7" fill="#000"/>
<rect x="543.83" y="264.27" width="3.7" height="3.7" fill="#000"/>
<rect x="547.61" y="268.21" width="3.7" height="3.7" fill="#000"/>
<rect x="551.39" y="273.84" width="3.7" height="3.7" fill="#000"/>
<rect x="555.17" y="274.4" width="3.7" height="3.7" fill="#000"/>
<rect x="558.95" y="280.02" width="3.7" height="3.7" fill="#000"/>
<rect x="562.73" y="290.71" width="3.7" height="3.7" fill="#000"/>
<rect x="566.51" y="294.65" width="3.7" height="3.7" fill="#000"/>
<rect x="570.29" y="291.27" width="3.7" height="3.7" fill="#000"/>
<rect x="574.07" y="294.09" width="3.7" height="3.7" fill="#000"/>
<rect x="577.85" y="301.96" width="3.7" height="3.7" fill="#000"/>
<rect x="581.63" y="309.84" width="3.7" height="3.7" fill="#000"/>
<rect x="585.41" y="314.9" width="3.7" height="3.7" fill="#000"/>
<rect x="589.19" y="315.46" width="3.7" height="3.7" fill="#000"/>
<rect x="592.97" y="314.9" width="3.7" height="3.7" fill="#000"/>
<rect x="596.75" y="324.46" width="3.7" height="3.7" fill="#000"/>
<rect x="600.53" y="332.9" width="3.7" height="3.7" fill="#000"/>
<rect x="604.31" y="340.21" width="3.7" height="3.7" fill="#000"/>
<rect x="608.09" y="340.77" width="3.7" height="3.7" fill="#000"/>
<rect x="611.87" y="338.52" width="3.7" height="3.7" fill="#000"/>
<rect x="615.65" y="348.65" width="3.7" height="3.7" fill="#000"/>
<rect x="619.43" y="357.65" width="3.7" height="3.7" fill="#000"/>
<rect x="623.21" y="362.15" width="3.7" height="3.7" fill="#000"/>
<rect x="626.99" y="360.46" width="3.7" height="3.7" fill="#000"/>
<rect x="630.77" y="367.21" width="3.7" height="3.7" fill="#000"/>
<rect x="634.55" y="366.09" width="3.7" height="3.7" fill="#000"/>
<rect x="638.33" y="372.84" width="3.7" height="3.7" fill="#000"/>
<rect x="642.11" y="375.65" width="3.7" height="3.7" fill="#000"/>
<rect x="645.89" y="379.59" width="3.7" height="3.7" fill="#000"/>
<rect x="649.67" y="382.96" width="3.7" height="3.7" fill="#000"/>
<rect x="653.45" y="385.21" width="3.7" height="3.7" fill="#000"/>
<rect x="657.23" y="387.46" width="3.7" height="3.7" fill="#000"/>
<rect x="661.01" y="389.71" width="3.7" height="3.7" fill="#000"/>
<rect x="664.79" y="393.65" width="3.7" height="3.7" fill="#000"/>
<rect x="668.57" y="394.21" width="3.7" height="3.7" fill="#000"/>
<rect x="672.35" y="395.9" width="3.7" height="3.7" fill="#000"/>
<rect x="676.13" y="396.46" width="3.7" height="3.7" fill="#000"/>
<rect x="679.91" y="398.15" width="3.7" height="3.7" fill="#000"/>
<rect x="683.69" y="398.71" width="3.7" height="3.7" fill="#000"/>
<rect x="687.47" y="399.84" width="3.7" height="3.7" fill="#000"/>
<rect x="691.25" y="400.96" width="3.7" height="3.7" fill="#000"/>
<rect x="695.03" y="401.52" width="3.7" height="3.7" fill="#000"/>
<rect x="698.81" y="401.52" width="3.7" height="3.7" fill="#000"/>
<rect x="702.59" y="401.52" width="3.7" height="3.7" fill="#000"/>
<circle cx="526.78" cy="285.81" r="1.95" fill="#00f"/>
<circle cx="530.56" cy="285.81" r="1.95" fill="#00f"/>
<circle cx="534.34" cy="290.88" r="1.95" fill="#00f"/>
<circle cx="538.12" cy="295.94" r="1.95" fill="#00f"/>
<circle cx="541.9" cy="299.88" r="1.95" fill="#00f"/>
<circle cx="545.68" cy="297.06" r="1.95" fill="#00f"/>
<circle cx="549.46" cy="300.44" r="1.95" fill="#00f"/>
<circle cx="553.24" cy="304.94" r="1.95" fill="#00f"/>
<circle cx="557.02" cy="304.94" r="1.95" fill="#00f"/>
<circle cx="560.8" cy="310" r="1.95" fill="#00f"/>
<circle cx="564.58" cy="317.88" r="1.95" fill="#00f"/>
<circle cx="568.36" cy="321.81" r="1.95" fill="#00f"/>
<circle cx="572.14" cy="318.44" r="1.95" fill="#00f"/>
<circle cx="575.92" cy="321.25" r="1.95" fill="#00f"/>
<circle cx="579.7" cy="326.88" r="1.95" fill="#00f"/>
<circle cx="583.48" cy="333.06" r="1.95" fill="#00f"/>
<circle cx="587.26" cy="336.44" r="1.95" fill="#00f"/>
<circle cx="591.04" cy="337" r="1.95" fill="#00f"/>
<circle cx="594.82" cy="336.44" r="1.95" fill="#00f"/>
<circle cx="598.6" cy="343.75" r="1.95" fill="#00f"/>
<circle cx="602.38" cy="351.06" r="1.95" fill="#00f"/>
<circle cx="606.16" cy="356.12" r="1.95" fill="#00f"/>
<circle cx="609.94" cy="357.25" r="1.95" fill="#00f"/>
<circle cx="613.72" cy="355.56" r="1.95" fill="#00f"/>
<circle cx="617.5" cy="363.44" r="1.95" fill="#00f"/>
<circle cx="621.28" cy="370.19" r="1.95" fill="#00f"/>
<circle cx="625.06" cy="374.12" r="1.95" fill="#00f"/>
<circle cx="628.84" cy="372.44" r="1.95" fill="#00f"/>
<circle cx="632.62" cy="378.06" r="1.95" fill="#00f"/>
<circle cx="636.4" cy="376.38" r="1.95" fill="#00f"/>
<circle cx="640.18" cy="382.56" r="1.95" fill="#00f"/>
<circle cx="643.96" cy="384.25" r="1.95" fill="#00f"/>
<circle cx="647.74" cy="387.06" r="1.95" fill="#00f"/>
<circle cx="651.52" cy="389.88" r="1.95" fill="#00f"/>
<circle cx="655.3" cy="391.56" r="1.95" fill="#00f"/>
<circle cx="659.08" cy="393.25" r="1.95" fill="#00f"/>
<circle cx="662.86" cy="394.94" r="1.95" fill="#00f"/>
<circle cx="666.64" cy="397.19" r="1.95" fill="#00f"/>
<circle cx="670.42" cy="398.31" r="1.95" fill="#00f"/>
<circle cx="674.2" cy="399.44" r="1.95" fill="#00f"/>
<circle cx="677.98" cy="400" r="1.95" fill="#00f"/>
<circle cx="681.76" cy="401.12" r="1.95" fill="#00f"/>
<circle cx="685.54" cy="401.69" r="1.95" fill="#00f"/>
<circle cx="689.32" cy="402.81" r="1.95" fill="#00f"/>
<circle cx="693.1" cy="403.38" r="1.95" fill="#00f"/>
<path d="M526.78 234.84L529.38 237.44L526.78 240.04L524.18 237.44Z" fill="#f00"/>
<path d="M530.56 234.84L533.16 237.44L530.56 240.04L527.96 237.44Z" fill="#f00"/>
<path d="M534.34 242.15L536.94 244.75L534.34 247.35L531.74 244.75Z" fill="#f00"/>
<path d="M538.12 249.46L540.72 252.06L538.12 254.66L535.52 252.06Z" fill="#f00"/>
<path d="M541.9 254.53L544.5 257.12L541.9 259.73L539.3 257.12Z" fill="#f00"/>
<path d="M545.68 251.15L548.28 253.75L545.68 256.35L543.08 253.75Z" fill="#f00"/>
<path d="M549.46 255.65L552.06 258.25L549.46 260.85L546.86 258.25Z" fill="#f00"/>
<path d="M553.24 261.84L555.84 264.44L553.24 267.04L550.64 264.44Z" fill="#f00"/>
<path d="M557.02 262.4L559.62 265L557.02 267.6L554.42 265Z" fill="#f00"/>
<path d="M560.8 268.59L563.4 271.19L560.8 273.79L558.2 271.19Z" fill="#f00"/>
<path d="M564.58 279.84L567.18 282.44L564.58 285.04L561.98 282.44Z" fill="#f00"/>
<path d="M568.36 284.9L570.96 287.5L568.36 290.1L565.76 287.5Z" fill="#f00"/>
<path d="M572.14 280.4L574.74 283L572.14 285.6L569.54 283Z" fill="#f00"/>
<path d="M575.92 283.77L578.52 286.38L575.92 288.98L573.32 286.38Z" fill="#f00"/>
<path d="M579.7 292.21L582.3 294.81L579.7 297.41L577.1 294.81Z" fill="#f00"/>
<path d="M583.48 301.21L586.08 303.81L583.48 306.41L580.88 303.81Z" fill="#f00"/>
<path d="M587.26 306.27L589.86 308.88L587.26 311.48L584.66 308.88Z" fill="#f00"/>
<path d="M591.04 306.84L593.64 309.44L591.04 312.04L588.44 309.44Z" fill="#f00"/>
<path d="M594.82 306.27L597.42 308.88L594.82 311.48L592.22 308.88Z" fill="#f00"/>
<path d="M598.6 316.4L601.2 319L598.6 321.6L596 319Z" fill="#f00"/>
<path d="M602.38 326.52L604.98 329.12L602.38 331.73L599.78 329.12Z" fill="#f00"/>
<path d="M606.16 333.27L608.76 335.88L606.16 338.48L603.56 335.88Z" fill="#f00"/>
<path d="M609.94 334.4L612.54 337L609.94 339.6L607.34 337Z" fill="#f00"/>
<path d="M613.72 332.15L616.32 334.75L613.72 337.35L611.12 334.75Z" fill="#f00"/>
<path d="M617.5 342.84L620.1 345.44L617.5 348.04L614.9 345.44Z" fill="#f00"/>
<path d="M621.28 352.96L623.88 355.56L621.28 358.16L618.68 355.56Z" fill="#f00"/>
<path d="M625.06 356.9L627.66 359.5L625.06 362.1L622.46 359.5Z" fill="#f00"/>
<path d="M628.84 355.77L631.44 358.38L628.84 360.98L626.24 358.38Z" fill="#f00"/>
<path d="M632.62 363.65L635.22 366.25L632.62 368.85L630.02 366.25Z" fill="#f00"/>
<path d="M636.4 361.96L639 364.56L636.4 367.16L633.8 364.56Z" fill="#f00"/>
<path d="M640.18 369.84L642.78 372.44L640.18 375.04L637.58 372.44Z" fill="#f00"/>
<path d="M643.96 373.21L646.56 375.81L643.96 378.41L641.36 375.81Z" fill="#f00"/>
<path d="M647.74 376.59L650.34 379.19L647.74 381.79L645.14 379.19Z" fill="#f00"/>
<path d="M651.52 380.52L654.12 383.12L651.52 385.73L648.92 383.12Z" fill="#f00"/>
<path d="M655.3 382.77L657.9 385.38L655.3 387.98L652.7 385.38Z" fill="#f00"/>
<path d="M659.08 385.02L661.68 387.62L659.08 390.23L656.48 387.62Z" fill="#f00"/>
<path d="M662.86 387.84L665.46 390.44L662.86 393.04L660.26 390.44Z" fill="#f00"/>
<path d="M666.64 391.77L669.24 394.38L666.64 396.98L664.04 394.38Z" fill="#f00"/>
<path d="M670.42 392.34L673.02 394.94L670.42 397.54L667.82 394.94Z" fill="#f00"/>
<path d="M674.2 394.02L676.8 396.62L674.2 399.23L671.6 396.62Z" fill="#f00"/>
<path d="M677.98 394.59L680.58 397.19L677.98 399.79L675.38 397.19Z" fill="#f00"/>
<path d="M681.76 396.27L684.36 398.88L681.76 401.48L679.16 398.88Z" fill="#f00"/>
<path d="M685.54 396.84L688.14 399.44L685.54 402.04L682.94 399.44Z" fill="#f00"/>
<path d="M689.32 398.52L691.92 401.12L689.32 403.73L686.72 401.12Z" fill="#f00"/>
<path d="M693.1 399.65L695.7 402.25L693.1 404.85L690.5 402.25Z" fill="#f00"/>
<path d="M696.88 400.21L699.48 402.81L696.88 405.41L694.28 402.81Z" fill="#f00"/>
<path d="M700.66 400.21L703.26 402.81L700.66 405.41L698.06 402.81Z" fill="#f00"/>
<path d="M704.44 399.65L707.04 402.25L704.44 404.85L701.84 402.25Z" fill="#f00"/>
<path d="M708.22 400.77L710.82 403.38L708.22 405.98L705.62 403.38Z" fill="#f00"/>
</g>
<path d="M523 406.75v-3 M560.8 406.75v-3 M598.6 406.75v-3 M636.4 406.75v-3 M674.2 406.75v-3 M712 406.75v-3 M749.8 406.75v-3 M523 406.75h3 M523 378.62h2 M523 350.5h3 M523 322.38h2 M523 294.25h3 M523 266.12h2 M523 238h3" stroke="#000" stroke-width="1" fill="none"/>
<rect x="523" y="232.5" width="226.8" height="174.25" fill="none" stroke="#000" stroke-width="1.3"/>
<text x="523" y="419.6" class="tl" text-anchor="middle">0</text>
<text x="560.8" y="419.6" class="tl" text-anchor="middle">2</text>
<text x="598.6" y="419.6" class="tl" text-anchor="middle">4</text>
<text x="636.4" y="419.6" class="tl" text-anchor="middle">6</text>
<text x="674.2" y="419.6" class="tl" text-anchor="middle">8</text>
<text x="712" y="419.6" class="tl" text-anchor="middle">10</text>
<text x="749.8" y="419.6" class="tl" text-anchor="middle">12</text>
<text x="636.4" y="435.2" class="at2" text-anchor="middle">Depth (nm)</text>
<text x="622" y="252.2" class="pl">(f)</text>
<rect x="193.5" y="239.7" width="62.6" height="63.6" fill="#fff" stroke="#333" stroke-width="0.9"/>
<rect x="203.3" y="243.2" width="3.8" height="3.8" fill="#000"/>
<path d="M205.2 257.7L207.6 260.1L205.2 262.5L202.8 260.1Z" fill="#f00"/>
<circle cx="205.2" cy="273.3" r="2" fill="#00f"/>
<path d="M205.2 283.71L207.3 287.36L203.1 287.36Z" fill="#fff" stroke="#2f7a2f" stroke-width="0.8"/>
<path d="M205.2 300.29L207.3 296.64L203.1 296.64Z" fill="#fff" stroke="#c43cc4" stroke-width="0.8"/>
<text x="219.3" y="248.7" class="lg2">H-CH<tspan font-size="7" dy="2.5">2</tspan></text>
<text x="219.3" y="263.7" class="lg2">C-Si</text>
<text x="219.3" y="276.9" class="lg2">C-C(sp<tspan font-size="7" dy="-3.5">3</tspan><tspan dy="3.5">)</tspan></text>
<text x="219.3" y="289.5" class="lg2">C-O</text>
<text x="219.3" y="301.7" class="lg2">C=O</text>
<text class="yt1" transform="translate(9.9 94.6) rotate(-90)" text-anchor="middle">Bond ratios in XPS C 1s</text>
<text class="yt2" transform="translate(15.6 318.3) rotate(-90)" text-anchor="middle">Displacement per atom</text>
</svg>
</body></html>
